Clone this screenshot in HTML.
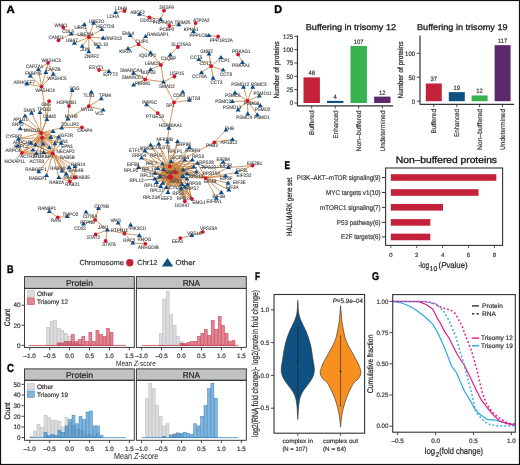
<!DOCTYPE html>
<html><head><meta charset="utf-8"><style>
html,body{margin:0;padding:0;background:#fff;}
svg{display:block;will-change:transform;}
text{font-family:"Liberation Sans",sans-serif;text-rendering:geometricPrecision;}
</style></head><body>
<svg width="520" height="465" viewBox="0 0 520 465">
<defs><clipPath id="gclip"><rect x="392.7" y="294.6" width="122.6" height="137.6"/></clipPath></defs>
<rect x="0" y="0" width="520" height="465" fill="#fff"/>
<text transform="translate(6.4 12.5) scale(1.062 1)" font-size="10.72" font-weight="bold" fill="#000" stroke="#000" stroke-width="0.4">A</text>
<text transform="translate(7.1 272.8) scale(0.815 1)" font-size="11.16" font-weight="bold" fill="#000" stroke="#000" stroke-width="0.4">B</text>
<text transform="translate(7.1 372) scale(0.818 1)" font-size="11.71" font-weight="bold" fill="#000" stroke="#000" stroke-width="0.4">C</text>
<text transform="translate(274.3 12.7) scale(0.958 1)" font-size="11.3" font-weight="bold" fill="#000" stroke="#000" stroke-width="0.4">D</text>
<text transform="translate(284.4 169) scale(0.718 1)" font-size="11.3" font-weight="bold" fill="#000" stroke="#000" stroke-width="0.4">E</text>
<text transform="translate(255.1 280) scale(0.744 1)" font-size="11.01" font-weight="bold" fill="#000" stroke="#000" stroke-width="0.4">F</text>
<text transform="translate(372 280.2) scale(0.817 1)" font-size="11.14" font-weight="bold" fill="#000" stroke="#000" stroke-width="0.4">G</text>
<text x="305.8" y="29.5" font-size="8.4" fill="#1a1a1a" textLength="90.2" lengthAdjust="spacingAndGlyphs" stroke="#1a1a1a" stroke-width="0.3">Buffering in trisomy 12</text>
<rect x="303.5" y="77.39" width="16.4" height="25.61" fill="#C4213A" stroke="none" stroke-width="1" />
<text x="311.7" y="75.39" font-size="6.3" text-anchor="middle" fill="#3a3a3a" textLength="6.52" lengthAdjust="spacingAndGlyphs" stroke="#3a3a3a" stroke-width="0.2">48</text>
<rect x="327" y="100.87" width="16.4" height="2.13" fill="#0F5181" stroke="none" stroke-width="1" />
<text x="335.2" y="98.87" font-size="6.3" text-anchor="middle" fill="#3a3a3a" textLength="3.26" lengthAdjust="spacingAndGlyphs" stroke="#3a3a3a" stroke-width="0.2">4</text>
<rect x="350.5" y="45.9" width="16.4" height="57.1" fill="#38B24E" stroke="none" stroke-width="1" />
<text x="358.7" y="43.9" font-size="6.3" text-anchor="middle" fill="#3a3a3a" textLength="9.77" lengthAdjust="spacingAndGlyphs" stroke="#3a3a3a" stroke-width="0.2">107</text>
<rect x="374.1" y="96.6" width="16.4" height="6.4" fill="#5C2A6C" stroke="none" stroke-width="1" />
<text x="382.3" y="94.6" font-size="6.3" text-anchor="middle" fill="#3a3a3a" textLength="6.52" lengthAdjust="spacingAndGlyphs" stroke="#3a3a3a" stroke-width="0.2">12</text>
<path d="M297.45,35.6 L297.45,105.85 L393,105.85" fill="none" stroke="#333333" stroke-width="1.2" stroke-linejoin="round"/>
<line x1="294.25" y1="103" x2="297.45" y2="103" stroke="#333333" stroke-width="0.9" />
<text x="293.2" y="105.3" font-size="6.4" text-anchor="end" fill="#3a3a3a" textLength="3.38" lengthAdjust="spacingAndGlyphs" stroke="#3a3a3a" stroke-width="0.2">0</text>
<line x1="294.25" y1="89.66" x2="297.45" y2="89.66" stroke="#333333" stroke-width="0.9" />
<text x="293.2" y="91.96" font-size="6.4" text-anchor="end" fill="#3a3a3a" textLength="6.76" lengthAdjust="spacingAndGlyphs" stroke="#3a3a3a" stroke-width="0.2">25</text>
<line x1="294.25" y1="76.32" x2="297.45" y2="76.32" stroke="#333333" stroke-width="0.9" />
<text x="293.2" y="78.62" font-size="6.4" text-anchor="end" fill="#3a3a3a" textLength="6.76" lengthAdjust="spacingAndGlyphs" stroke="#3a3a3a" stroke-width="0.2">50</text>
<line x1="294.25" y1="62.98" x2="297.45" y2="62.98" stroke="#333333" stroke-width="0.9" />
<text x="293.2" y="65.28" font-size="6.4" text-anchor="end" fill="#3a3a3a" textLength="6.76" lengthAdjust="spacingAndGlyphs" stroke="#3a3a3a" stroke-width="0.2">75</text>
<line x1="294.25" y1="49.64" x2="297.45" y2="49.64" stroke="#333333" stroke-width="0.9" />
<text x="293.2" y="51.94" font-size="6.4" text-anchor="end" fill="#3a3a3a" textLength="10.14" lengthAdjust="spacingAndGlyphs" stroke="#3a3a3a" stroke-width="0.2">100</text>
<line x1="294.25" y1="36.3" x2="297.45" y2="36.3" stroke="#333333" stroke-width="0.9" />
<text x="293.2" y="38.6" font-size="6.4" text-anchor="end" fill="#3a3a3a" textLength="10.14" lengthAdjust="spacingAndGlyphs" stroke="#3a3a3a" stroke-width="0.2">125</text>
<line x1="311.7" y1="105.85" x2="311.7" y2="108.65" stroke="#333333" stroke-width="0.9" />
<text x="314.1" y="110.45" font-size="6.8" text-anchor="end" fill="#3a3a3a" textLength="24.5" lengthAdjust="spacingAndGlyphs" transform="rotate(-90 314.1 110.45)" stroke="#3a3a3a" stroke-width="0.2">Buffered</text>
<line x1="335.2" y1="105.85" x2="335.2" y2="108.65" stroke="#333333" stroke-width="0.9" />
<text x="337.6" y="110.45" font-size="6.8" text-anchor="end" fill="#3a3a3a" textLength="28" lengthAdjust="spacingAndGlyphs" transform="rotate(-90 337.6 110.45)" stroke="#3a3a3a" stroke-width="0.2">Enhanced</text>
<line x1="358.7" y1="105.85" x2="358.7" y2="108.65" stroke="#333333" stroke-width="0.9" />
<text x="361.1" y="110.45" font-size="6.8" text-anchor="end" fill="#3a3a3a" textLength="41" lengthAdjust="spacingAndGlyphs" transform="rotate(-90 361.1 110.45)" stroke="#3a3a3a" stroke-width="0.2">Non–buffered</text>
<line x1="382.3" y1="105.85" x2="382.3" y2="108.65" stroke="#333333" stroke-width="0.9" />
<text x="384.7" y="110.45" font-size="6.8" text-anchor="end" fill="#3a3a3a" textLength="41" lengthAdjust="spacingAndGlyphs" transform="rotate(-90 384.7 110.45)" stroke="#3a3a3a" stroke-width="0.2">Undetermined</text>
<text x="279.4" y="70" font-size="7.5" text-anchor="middle" fill="#222" textLength="57.2" lengthAdjust="spacingAndGlyphs" transform="rotate(-90 279.4 70)" stroke="#222" stroke-width="0.2">Number of proteins</text>
<text x="417" y="29.5" font-size="8.4" fill="#1a1a1a" textLength="90.6" lengthAdjust="spacingAndGlyphs" stroke="#1a1a1a" stroke-width="0.3">Buffering in trisomy 19</text>
<rect x="425.8" y="83.48" width="16" height="17.72" fill="#C4213A" stroke="none" stroke-width="1" />
<text x="433.8" y="81.48" font-size="6.3" text-anchor="middle" fill="#3a3a3a" textLength="6.52" lengthAdjust="spacingAndGlyphs" stroke="#3a3a3a" stroke-width="0.2">37</text>
<rect x="448.8" y="92.1" width="16" height="9.1" fill="#0F5181" stroke="none" stroke-width="1" />
<text x="456.8" y="90.1" font-size="6.3" text-anchor="middle" fill="#3a3a3a" textLength="6.52" lengthAdjust="spacingAndGlyphs" stroke="#3a3a3a" stroke-width="0.2">19</text>
<rect x="471.6" y="95.45" width="16" height="5.75" fill="#38B24E" stroke="none" stroke-width="1" />
<text x="479.6" y="93.45" font-size="6.3" text-anchor="middle" fill="#3a3a3a" textLength="6.52" lengthAdjust="spacingAndGlyphs" stroke="#3a3a3a" stroke-width="0.2">12</text>
<rect x="494.6" y="45.16" width="16" height="56.04" fill="#5C2A6C" stroke="none" stroke-width="1" />
<text x="502.6" y="43.16" font-size="6.3" text-anchor="middle" fill="#3a3a3a" textLength="9.34" lengthAdjust="spacingAndGlyphs" stroke="#3a3a3a" stroke-width="0.2">117</text>
<path d="M420,35.6 L420,104.35 L514,104.35" fill="none" stroke="#333333" stroke-width="1.2" stroke-linejoin="round"/>
<line x1="416.8" y1="101.2" x2="420" y2="101.2" stroke="#333333" stroke-width="0.9" />
<text x="415.2" y="103.5" font-size="6.4" text-anchor="end" fill="#3a3a3a" textLength="3.38" lengthAdjust="spacingAndGlyphs" stroke="#3a3a3a" stroke-width="0.2">0</text>
<line x1="416.8" y1="77.25" x2="420" y2="77.25" stroke="#333333" stroke-width="0.9" />
<text x="415.2" y="79.55" font-size="6.4" text-anchor="end" fill="#3a3a3a" textLength="6.76" lengthAdjust="spacingAndGlyphs" stroke="#3a3a3a" stroke-width="0.2">50</text>
<line x1="416.8" y1="53.3" x2="420" y2="53.3" stroke="#333333" stroke-width="0.9" />
<text x="415.2" y="55.6" font-size="6.4" text-anchor="end" fill="#3a3a3a" textLength="10.14" lengthAdjust="spacingAndGlyphs" stroke="#3a3a3a" stroke-width="0.2">100</text>
<line x1="433.8" y1="104.35" x2="433.8" y2="107.15" stroke="#333333" stroke-width="0.9" />
<text x="436.2" y="108.95" font-size="6.8" text-anchor="end" fill="#3a3a3a" textLength="24.5" lengthAdjust="spacingAndGlyphs" transform="rotate(-90 436.2 108.95)" stroke="#3a3a3a" stroke-width="0.2">Buffered</text>
<line x1="456.8" y1="104.35" x2="456.8" y2="107.15" stroke="#333333" stroke-width="0.9" />
<text x="459.2" y="108.95" font-size="6.8" text-anchor="end" fill="#3a3a3a" textLength="28" lengthAdjust="spacingAndGlyphs" transform="rotate(-90 459.2 108.95)" stroke="#3a3a3a" stroke-width="0.2">Enhanced</text>
<line x1="479.6" y1="104.35" x2="479.6" y2="107.15" stroke="#333333" stroke-width="0.9" />
<text x="482" y="108.95" font-size="6.8" text-anchor="end" fill="#3a3a3a" textLength="41" lengthAdjust="spacingAndGlyphs" transform="rotate(-90 482 108.95)" stroke="#3a3a3a" stroke-width="0.2">Non–buffered</text>
<line x1="502.6" y1="104.35" x2="502.6" y2="107.15" stroke="#333333" stroke-width="0.9" />
<text x="505" y="108.95" font-size="6.8" text-anchor="end" fill="#3a3a3a" textLength="41" lengthAdjust="spacingAndGlyphs" transform="rotate(-90 505 108.95)" stroke="#3a3a3a" stroke-width="0.2">Undetermined</text>
<text x="402.9" y="70" font-size="7.5" text-anchor="middle" fill="#222" textLength="57.2" lengthAdjust="spacingAndGlyphs" transform="rotate(-90 402.9 70)" stroke="#222" stroke-width="0.2">Number of proteins</text>
<text x="395.8" y="163.1" font-size="9.4" fill="#1a1a1a" textLength="101.2" lengthAdjust="spacingAndGlyphs" stroke="#1a1a1a" stroke-width="0.33">Non–buffered proteins</text>
<rect x="385.6" y="168" width="117" height="77.4" fill="none" stroke="#333333" stroke-width="1.1" />
<rect x="390.8" y="174.2" width="105.54" height="6.6" fill="#C4213A" stroke="none" stroke-width="1" />
<line x1="381.9" y1="177.5" x2="385.6" y2="177.5" stroke="#333333" stroke-width="1" />
<text x="380.6" y="179.9" font-size="6.8" text-anchor="end" fill="#3a3a3a" textLength="83.75" lengthAdjust="spacingAndGlyphs" stroke="#3a3a3a" stroke-width="0.2">PI3K–AKT–mTOR signaling(9)</text>
<rect x="390.8" y="189.2" width="87.8" height="6.6" fill="#C4213A" stroke="none" stroke-width="1" />
<line x1="381.9" y1="192.5" x2="385.6" y2="192.5" stroke="#333333" stroke-width="1" />
<text x="380.6" y="194.9" font-size="6.8" text-anchor="end" fill="#3a3a3a" textLength="54.5" lengthAdjust="spacingAndGlyphs" stroke="#3a3a3a" stroke-width="0.2">MYC targets v1(10)</text>
<rect x="390.8" y="204" width="52.19" height="6.6" fill="#C4213A" stroke="none" stroke-width="1" />
<line x1="381.9" y1="207.3" x2="385.6" y2="207.3" stroke="#333333" stroke-width="1" />
<text x="380.6" y="209.7" font-size="6.8" text-anchor="end" fill="#3a3a3a" textLength="60.5" lengthAdjust="spacingAndGlyphs" stroke="#3a3a3a" stroke-width="0.2">mTORC1 signaling(7)</text>
<rect x="390.8" y="219.1" width="39.5" height="6.6" fill="#C4213A" stroke="none" stroke-width="1" />
<line x1="381.9" y1="222.4" x2="385.6" y2="222.4" stroke="#333333" stroke-width="1" />
<text x="380.6" y="224.8" font-size="6.8" text-anchor="end" fill="#3a3a3a" textLength="43.75" lengthAdjust="spacingAndGlyphs" stroke="#3a3a3a" stroke-width="0.2">P53 pathway(6)</text>
<rect x="390.8" y="233.65" width="39.5" height="6.6" fill="#C4213A" stroke="none" stroke-width="1" />
<line x1="381.9" y1="236.95" x2="385.6" y2="236.95" stroke="#333333" stroke-width="1" />
<text x="380.6" y="239.35" font-size="6.8" text-anchor="end" fill="#3a3a3a" textLength="39.5" lengthAdjust="spacingAndGlyphs" stroke="#3a3a3a" stroke-width="0.2">E2F targets(6)</text>
<line x1="390.8" y1="245.3" x2="390.8" y2="248" stroke="#333333" stroke-width="0.8" />
<text x="390.8" y="256.6" font-size="6" text-anchor="middle" fill="#3a3a3a" stroke="#3a3a3a" stroke-width="0.2">0</text>
<line x1="416.7" y1="245.3" x2="416.7" y2="248" stroke="#333333" stroke-width="0.8" />
<text x="416.7" y="256.6" font-size="6" text-anchor="middle" fill="#3a3a3a" stroke="#3a3a3a" stroke-width="0.2">2</text>
<line x1="442.6" y1="245.3" x2="442.6" y2="248" stroke="#333333" stroke-width="0.8" />
<text x="442.6" y="256.6" font-size="6" text-anchor="middle" fill="#3a3a3a" stroke="#3a3a3a" stroke-width="0.2">4</text>
<line x1="468.5" y1="245.3" x2="468.5" y2="248" stroke="#333333" stroke-width="0.8" />
<text x="468.5" y="256.6" font-size="6" text-anchor="middle" fill="#3a3a3a" stroke="#3a3a3a" stroke-width="0.2">6</text>
<line x1="494.4" y1="245.3" x2="494.4" y2="248" stroke="#333333" stroke-width="0.8" />
<text x="494.4" y="256.6" font-size="6" text-anchor="middle" fill="#3a3a3a" stroke="#3a3a3a" stroke-width="0.2">8</text>
<text x="418.4" y="268.1" font-size="8.6" fill="#222" textLength="10.6" lengthAdjust="spacingAndGlyphs" stroke="#222" stroke-width="0.2">-log</text>
<text x="429.6" y="270.7" font-size="7.0" fill="#222" stroke="#222" stroke-width="0.15">10</text>
<text x="438.6" y="268.1" font-size="8.6" fill="#222" stroke="#222" stroke-width="0.2" textLength="29.0" lengthAdjust="spacingAndGlyphs">(<tspan font-style="italic">P</tspan>value)</text>
<text x="292.1" y="206.8" font-size="8" text-anchor="middle" fill="#222" textLength="58.5" lengthAdjust="spacingAndGlyphs" transform="rotate(-90 292.1 206.8)" stroke="#222" stroke-width="0.2">HALLMARK gene set</text>
<rect x="274" y="294.5" width="90.6" height="138.7" fill="none" stroke="#333333" stroke-width="1.1" />
<line x1="270.8" y1="309.8" x2="274" y2="309.8" stroke="#333333" stroke-width="0.9" />
<text x="269.3" y="312" font-size="6.3" text-anchor="end" fill="#3a3a3a" stroke="#3a3a3a" stroke-width="0.2">1.0</text>
<line x1="270.8" y1="342.6" x2="274" y2="342.6" stroke="#333333" stroke-width="0.9" />
<text x="269.3" y="344.8" font-size="6.3" text-anchor="end" fill="#3a3a3a" stroke="#3a3a3a" stroke-width="0.2">0.5</text>
<line x1="270.8" y1="375.4" x2="274" y2="375.4" stroke="#333333" stroke-width="0.9" />
<text x="269.3" y="377.6" font-size="6.3" text-anchor="end" fill="#3a3a3a" stroke="#3a3a3a" stroke-width="0.2">0.0</text>
<line x1="270.8" y1="408.2" x2="274" y2="408.2" stroke="#333333" stroke-width="0.9" />
<text x="269.3" y="410.4" font-size="6.3" text-anchor="end" fill="#3a3a3a" stroke="#3a3a3a" stroke-width="0.2">–0.5</text>
<path d="M297.85,300.8 C297.91,301.5 298.03,303.5 298.1,305 C298.18,306.5 298.2,308.47 298.3,309.8 C298.4,311.13 298.5,311.87 298.7,313 C298.9,314.13 299.17,315.43 299.5,316.6 C299.83,317.77 300.23,318.85 300.7,320 C301.17,321.15 301.75,322.33 302.3,323.5 C302.85,324.67 303.43,325.85 304,327 C304.57,328.15 304.98,328.68 305.7,330.4 C306.42,332.12 307.53,335.02 308.3,337.3 C309.07,339.58 309.73,341.82 310.3,344.1 C310.87,346.38 311.27,348.47 311.7,351 C312.13,353.53 312.53,356.97 312.9,359.3 C313.27,361.63 313.65,363.22 313.9,365 C314.15,366.78 314.43,368.4 314.4,370 C314.37,371.6 314.15,373.08 313.7,374.6 C313.25,376.12 312.72,377.35 311.7,379.1 C310.68,380.85 309.03,383.1 307.6,385.1 C306.17,387.1 304.33,389.08 303.1,391.1 C301.87,393.12 300.88,395.18 300.2,397.2 C299.52,399.22 299.3,401.2 299,403.2 C298.7,405.2 298.54,407.4 298.4,409.2 C298.26,411 298.24,412.37 298.15,414 C298.06,415.63 297.92,418.17 297.85,419 C297.78,419.83 297.82,419.83 297.75,419 C297.68,418.17 297.54,415.63 297.45,414 C297.36,412.37 297.34,411 297.2,409.2 C297.06,407.4 296.9,405.2 296.6,403.2 C296.3,401.2 296.08,399.22 295.4,397.2 C294.72,395.18 293.73,393.12 292.5,391.1 C291.27,389.08 289.43,387.1 288,385.1 C286.57,383.1 284.92,380.85 283.9,379.1 C282.88,377.35 282.35,376.12 281.9,374.6 C281.45,373.08 281.23,371.6 281.2,370 C281.17,368.4 281.45,366.78 281.7,365 C281.95,363.22 282.33,361.63 282.7,359.3 C283.07,356.97 283.47,353.53 283.9,351 C284.33,348.47 284.73,346.38 285.3,344.1 C285.87,341.82 286.53,339.58 287.3,337.3 C288.07,335.02 289.18,332.12 289.9,330.4 C290.62,328.68 291.03,328.15 291.6,327 C292.17,325.85 292.75,324.67 293.3,323.5 C293.85,322.33 294.43,321.15 294.9,320 C295.37,318.85 295.77,317.77 296.1,316.6 C296.43,315.43 296.7,314.13 296.9,313 C297.1,311.87 297.2,311.13 297.3,309.8 C297.4,308.47 297.43,306.5 297.5,305 C297.57,303.5 297.69,301.5 297.75,300.8 C297.81,300.1 297.79,300.1 297.85,300.8Z" fill="#0F5181" stroke="#2a2a2a" stroke-width="0.6"/>
<path d="M340.6,306 C340.68,306.67 340.82,308.5 340.95,310 C341.07,311.5 341.17,312.9 341.35,315 C341.53,317.1 341.7,320.1 342.05,322.6 C342.4,325.1 342.95,327.5 343.45,330 C343.95,332.5 344.28,335.08 345.05,337.6 C345.82,340.12 346.85,342.6 348.05,345.1 C349.25,347.6 350.87,350.08 352.25,352.6 C353.63,355.12 355.25,358.13 356.35,360.2 C357.45,362.27 358.28,363.75 358.85,365 C359.42,366.25 359.42,366.7 359.75,367.7 C360.08,368.7 360.68,369.95 360.85,371 C361.02,372.05 360.97,373 360.75,374 C360.53,375 360.17,376 359.55,377 C358.93,378 358.02,379 357.05,380 C356.08,381 354.85,381.5 353.75,383 C352.65,384.5 351.47,387 350.45,389 C349.43,391 348.57,392.73 347.65,395 C346.73,397.27 345.75,400.08 344.95,402.6 C344.15,405.12 343.42,407.6 342.85,410.1 C342.28,412.6 341.85,415.62 341.55,417.6 C341.25,419.58 341.21,420.48 341.05,422 C340.89,423.52 340.69,425.92 340.6,426.7 C340.51,427.48 340.59,427.48 340.5,426.7 C340.41,425.92 340.21,423.52 340.05,422 C339.89,420.48 339.85,419.58 339.55,417.6 C339.25,415.62 338.82,412.6 338.25,410.1 C337.68,407.6 336.95,405.12 336.15,402.6 C335.35,400.08 334.37,397.27 333.45,395 C332.53,392.73 331.67,391 330.65,389 C329.63,387 328.45,384.5 327.35,383 C326.25,381.5 325.02,381 324.05,380 C323.08,379 322.17,378 321.55,377 C320.93,376 320.57,375 320.35,374 C320.13,373 320.08,372.05 320.25,371 C320.42,369.95 321.02,368.7 321.35,367.7 C321.68,366.7 321.68,366.25 322.25,365 C322.82,363.75 323.65,362.27 324.75,360.2 C325.85,358.13 327.47,355.12 328.85,352.6 C330.23,350.08 331.85,347.6 333.05,345.1 C334.25,342.6 335.28,340.12 336.05,337.6 C336.82,335.08 337.15,332.5 337.65,330 C338.15,327.5 338.7,325.1 339.05,322.6 C339.4,320.1 339.57,317.1 339.75,315 C339.93,312.9 340.03,311.5 340.15,310 C340.28,308.5 340.43,306.67 340.5,306 C340.57,305.33 340.53,305.33 340.6,306Z" fill="#F7901E" stroke="#2a2a2a" stroke-width="0.6"/>
<line x1="297.8" y1="327" x2="297.8" y2="396" stroke="#1a1a1a" stroke-width="0.55" />
<line x1="297.1" y1="327" x2="298.5" y2="327" stroke="#1a1a1a" stroke-width="0.5" />
<line x1="297.1" y1="396" x2="298.5" y2="396" stroke="#1a1a1a" stroke-width="0.5" />
<circle cx="297.8" cy="361.6" r="0.85" fill="#1a1a1a"/>
<line x1="340.55" y1="336.1" x2="340.55" y2="406" stroke="#1a1a1a" stroke-width="0.55" />
<line x1="339.8" y1="336.1" x2="341.3" y2="336.1" stroke="#1a1a1a" stroke-width="0.5" />
<line x1="339.8" y1="406" x2="341.3" y2="406" stroke="#1a1a1a" stroke-width="0.5" />
<circle cx="340.55" cy="371.3" r="0.85" fill="#1a1a1a"/>
<text x="363.0" y="303.0" font-size="6.4" text-anchor="end" fill="#333" stroke="#333" stroke-width="0.18" textLength="30.3" lengthAdjust="spacingAndGlyphs"><tspan font-style="italic">P</tspan>=5.9e–04</text>
<line x1="297.8" y1="433.2" x2="297.8" y2="435.9" stroke="#333333" stroke-width="0.8" />
<line x1="340.55" y1="433.2" x2="340.55" y2="435.9" stroke="#333333" stroke-width="0.8" />
<text x="282.4" y="443.2" font-size="6.1" fill="#3a3a3a" textLength="30.6" lengthAdjust="spacingAndGlyphs" stroke="#3a3a3a" stroke-width="0.2">complex in</text>
<text x="282.4" y="450.6" font-size="6.1" fill="#3a3a3a" textLength="25" lengthAdjust="spacingAndGlyphs" stroke="#3a3a3a" stroke-width="0.2">(N = 107)</text>
<text x="323" y="443.2" font-size="6.1" fill="#3a3a3a" textLength="35" lengthAdjust="spacingAndGlyphs" stroke="#3a3a3a" stroke-width="0.2">complex out</text>
<text x="323" y="450.6" font-size="6.1" fill="#3a3a3a" textLength="23" lengthAdjust="spacingAndGlyphs" stroke="#3a3a3a" stroke-width="0.2">(N = 64)</text>
<text x="258" y="363.5" font-size="9" text-anchor="middle" fill="#2a2a2a" textLength="147" lengthAdjust="spacingAndGlyphs" transform="rotate(-90 258 363.5)" stroke="#2a2a2a" stroke-width="0.2">log2(RNA fold change)- log2(protein fold change)</text>
<rect x="392.7" y="294.6" width="122.6" height="137.6" fill="none" stroke="#333333" stroke-width="1.1" />
<line x1="389.4" y1="301.4" x2="392.7" y2="301.4" stroke="#333333" stroke-width="0.9" />
<text x="388.3" y="303.65" font-size="6.3" text-anchor="end" fill="#3a3a3a" textLength="11.9" lengthAdjust="spacingAndGlyphs" stroke="#3a3a3a" stroke-width="0.2">1.00</text>
<line x1="389.4" y1="332.6" x2="392.7" y2="332.6" stroke="#333333" stroke-width="0.9" />
<text x="388.3" y="334.85" font-size="6.3" text-anchor="end" fill="#3a3a3a" textLength="11.9" lengthAdjust="spacingAndGlyphs" stroke="#3a3a3a" stroke-width="0.2">0.75</text>
<line x1="389.4" y1="363.8" x2="392.7" y2="363.8" stroke="#333333" stroke-width="0.9" />
<text x="388.3" y="366.05" font-size="6.3" text-anchor="end" fill="#3a3a3a" textLength="11.9" lengthAdjust="spacingAndGlyphs" stroke="#3a3a3a" stroke-width="0.2">0.50</text>
<line x1="389.4" y1="395" x2="392.7" y2="395" stroke="#333333" stroke-width="0.9" />
<text x="388.3" y="397.25" font-size="6.3" text-anchor="end" fill="#3a3a3a" textLength="11.9" lengthAdjust="spacingAndGlyphs" stroke="#3a3a3a" stroke-width="0.2">0.25</text>
<line x1="389.4" y1="426.2" x2="392.7" y2="426.2" stroke="#333333" stroke-width="0.9" />
<text x="388.3" y="428.45" font-size="6.3" text-anchor="end" fill="#3a3a3a" textLength="11.9" lengthAdjust="spacingAndGlyphs" stroke="#3a3a3a" stroke-width="0.2">0.00</text>
<line x1="397.7" y1="432.2" x2="397.7" y2="435.2" stroke="#333333" stroke-width="0.9" />
<text x="397.7" y="443.4" font-size="6.3" text-anchor="middle" fill="#3a3a3a" stroke="#3a3a3a" stroke-width="0.2">–0.5</text>
<line x1="435.6" y1="432.2" x2="435.6" y2="435.2" stroke="#333333" stroke-width="0.9" />
<text x="435.6" y="443.4" font-size="6.3" text-anchor="middle" fill="#3a3a3a" stroke="#3a3a3a" stroke-width="0.2">0.0</text>
<line x1="473.5" y1="432.2" x2="473.5" y2="435.2" stroke="#333333" stroke-width="0.9" />
<text x="473.5" y="443.4" font-size="6.3" text-anchor="middle" fill="#3a3a3a" stroke="#3a3a3a" stroke-width="0.2">0.5</text>
<line x1="511.4" y1="432.2" x2="511.4" y2="435.2" stroke="#333333" stroke-width="0.9" />
<text x="511.4" y="443.4" font-size="6.3" text-anchor="middle" fill="#3a3a3a" stroke="#3a3a3a" stroke-width="0.2">1.0</text>
<text x="424.8" y="453.5" font-size="9" fill="#222" textLength="10.4" lengthAdjust="spacingAndGlyphs" stroke="#222" stroke-width="0.2">log</text>
<text x="435.5" y="456.5" font-size="7.0" fill="#222" stroke="#222" stroke-width="0.15">2</text>
<text x="439.2" y="453.5" font-size="9" fill="#222" textLength="43.9" lengthAdjust="spacingAndGlyphs" stroke="#222" stroke-width="0.2">(fold change)</text>
<text x="373.4" y="363.9" font-size="8.2" text-anchor="middle" fill="#222" textLength="58.8" lengthAdjust="spacingAndGlyphs" transform="rotate(-90 373.4 363.9)" stroke="#222" stroke-width="0.2">Cumulative fraction</text>
<g clip-path="url(#gclip)">
<polyline points="392.7,301.4 399.5,302.3 407,305 414.6,309 424,316 432.7,324.1 438,333 444.7,348.2 446.5,352.7 451.4,365.8 456.3,372.3 460,381.1 464.5,391.2 470,400.1 474.5,408.5 480.1,414.6 487.9,419.7 495.8,420.2 502.5,422.2 510.3,423.8 516,424.5" fill="none" stroke="#29ABE2" stroke-width="1.2" stroke-linejoin="round"/>
<polyline points="392.7,301.4 410,301.5 419.1,301.6 426,304.5 432.7,309 437.2,318.1 440,322.5 444.7,331.6 449,338 457.2,354.3 464.5,365.8 471.3,379.4 476.8,391.2 481.8,400.7 487.9,408.5 493.5,415.2 499.1,420.8 506.9,423.6 516,425.3" fill="none" stroke="#E8198B" stroke-width="1.2" stroke-linejoin="round"/>
<polyline points="392.7,301.4 422,301.4 435.7,303.8 443.2,310.6 448.5,319.6 453.7,331.6 456,337 458,344 460.4,352.7 463,361 465.3,369 468.4,381.7 471.2,391.2 473.4,401.2 475.1,409 477.9,414.6 481.2,418 484.6,421.9 490.2,424.7 496.9,425.8 504.7,426 516,426" fill="none" stroke="#29ABE2" stroke-width="1.5" stroke-dasharray="1.8,2.2" stroke-dashoffset="2" stroke-linejoin="round"/>
<polyline points="392.7,301.4 425,301.5 431.2,302.3 440.2,306.8 446.2,309 450.7,309.8 455.3,313.6 459,320.4 462,325.6 464.5,333 471,349.4 476.8,369 479.6,381.7 482.3,392.3 486.8,404.6 492.4,412.4 499.1,418 508,423 516,424.1" fill="none" stroke="#E8198B" stroke-width="1.5" stroke-dasharray="1.8,2.2" stroke-linejoin="round"/>
</g>
<line x1="472" y1="305.9" x2="479" y2="305.9" stroke="#333" stroke-width="1.4" />
<line x1="472" y1="313.7" x2="479" y2="313.7" stroke="#333" stroke-width="1.4" stroke-dasharray="2.3,2.2"/>
<text x="482" y="308.1" font-size="6.5" fill="#333" textLength="20.9" lengthAdjust="spacingAndGlyphs" stroke="#333" stroke-width="0.2">Protein</text>
<text x="482" y="315.9" font-size="6.5" fill="#333" textLength="13.9" lengthAdjust="spacingAndGlyphs" stroke="#333" stroke-width="0.2">RNA</text>
<line x1="472" y1="338.1" x2="479" y2="338.1" stroke="#E8198B" stroke-width="1.4" />
<line x1="472" y1="345.7" x2="479" y2="345.7" stroke="#29ABE2" stroke-width="1.4" />
<text x="481" y="340.3" font-size="6.5" fill="#333" textLength="31.8" lengthAdjust="spacingAndGlyphs" stroke="#333" stroke-width="0.2">Trisomy 12</text>
<text x="481" y="347.9" font-size="6.5" fill="#333" textLength="31.8" lengthAdjust="spacingAndGlyphs" stroke="#333" stroke-width="0.2">Trisomy 19</text>
<rect x="24.5" y="276.6" width="109.8" height="11.8" fill="#C1C2C4" stroke="#333" stroke-width="0.95" />
<rect x="24.5" y="288.4" width="109.8" height="59" fill="none" stroke="#333" stroke-width="0.95" />
<text x="79.4" y="285.8" font-size="8.5" text-anchor="middle" fill="#222" textLength="27" lengthAdjust="spacingAndGlyphs" stroke="#222" stroke-width="0.2">Protein</text>
<rect x="136.4" y="276.6" width="109.9" height="11.8" fill="#C1C2C4" stroke="#333" stroke-width="0.95" />
<rect x="136.4" y="288.4" width="109.9" height="59" fill="none" stroke="#333" stroke-width="0.95" />
<text x="191.35" y="285.8" font-size="8.5" text-anchor="middle" fill="#222" textLength="17.3" lengthAdjust="spacingAndGlyphs" stroke="#222" stroke-width="0.2">RNA</text>
<line x1="21.6" y1="345.4" x2="24.5" y2="345.4" stroke="#333333" stroke-width="0.9" />
<text x="20.6" y="347.65" font-size="6.4" text-anchor="end" fill="#3a3a3a" stroke="#3a3a3a" stroke-width="0.2">0</text>
<line x1="21.6" y1="325.3" x2="24.5" y2="325.3" stroke="#333333" stroke-width="0.9" />
<text x="20.6" y="327.55" font-size="6.4" text-anchor="end" fill="#3a3a3a" stroke="#3a3a3a" stroke-width="0.2">20</text>
<line x1="21.6" y1="305.2" x2="24.5" y2="305.2" stroke="#333333" stroke-width="0.9" />
<text x="20.6" y="307.45" font-size="6.4" text-anchor="end" fill="#3a3a3a" stroke="#3a3a3a" stroke-width="0.2">40</text>
<line x1="29.75" y1="347.4" x2="29.75" y2="350.2" stroke="#333333" stroke-width="0.9" />
<text x="29.75" y="357.8" font-size="6.3" text-anchor="middle" fill="#3a3a3a" stroke="#3a3a3a" stroke-width="0.2">–1.0</text>
<line x1="49.67" y1="347.4" x2="49.67" y2="350.2" stroke="#333333" stroke-width="0.9" />
<text x="49.67" y="357.8" font-size="6.3" text-anchor="middle" fill="#3a3a3a" stroke="#3a3a3a" stroke-width="0.2">–0.5</text>
<line x1="69.6" y1="347.4" x2="69.6" y2="350.2" stroke="#333333" stroke-width="0.9" />
<text x="69.6" y="357.8" font-size="6.3" text-anchor="middle" fill="#3a3a3a" stroke="#3a3a3a" stroke-width="0.2">0.0</text>
<line x1="89.52" y1="347.4" x2="89.52" y2="350.2" stroke="#333333" stroke-width="0.9" />
<text x="89.52" y="357.8" font-size="6.3" text-anchor="middle" fill="#3a3a3a" stroke="#3a3a3a" stroke-width="0.2">0.5</text>
<line x1="109.45" y1="347.4" x2="109.45" y2="350.2" stroke="#333333" stroke-width="0.9" />
<text x="109.45" y="357.8" font-size="6.3" text-anchor="middle" fill="#3a3a3a" stroke="#3a3a3a" stroke-width="0.2">1.0</text>
<line x1="129.38" y1="347.4" x2="129.38" y2="350.2" stroke="#333333" stroke-width="0.9" />
<text x="129.38" y="357.8" font-size="6.3" text-anchor="middle" fill="#3a3a3a" stroke="#3a3a3a" stroke-width="0.2">1.5</text>
<line x1="141.65" y1="347.4" x2="141.65" y2="350.2" stroke="#333333" stroke-width="0.9" />
<text x="141.65" y="357.8" font-size="6.3" text-anchor="middle" fill="#3a3a3a" stroke="#3a3a3a" stroke-width="0.2">–1.0</text>
<line x1="161.57" y1="347.4" x2="161.57" y2="350.2" stroke="#333333" stroke-width="0.9" />
<text x="161.57" y="357.8" font-size="6.3" text-anchor="middle" fill="#3a3a3a" stroke="#3a3a3a" stroke-width="0.2">–0.5</text>
<line x1="181.5" y1="347.4" x2="181.5" y2="350.2" stroke="#333333" stroke-width="0.9" />
<text x="181.5" y="357.8" font-size="6.3" text-anchor="middle" fill="#3a3a3a" stroke="#3a3a3a" stroke-width="0.2">0.0</text>
<line x1="201.43" y1="347.4" x2="201.43" y2="350.2" stroke="#333333" stroke-width="0.9" />
<text x="201.43" y="357.8" font-size="6.3" text-anchor="middle" fill="#3a3a3a" stroke="#3a3a3a" stroke-width="0.2">0.5</text>
<line x1="221.35" y1="347.4" x2="221.35" y2="350.2" stroke="#333333" stroke-width="0.9" />
<text x="221.35" y="357.8" font-size="6.3" text-anchor="middle" fill="#3a3a3a" stroke="#3a3a3a" stroke-width="0.2">1.0</text>
<line x1="241.28" y1="347.4" x2="241.28" y2="350.2" stroke="#333333" stroke-width="0.9" />
<text x="241.28" y="357.8" font-size="6.3" text-anchor="middle" fill="#3a3a3a" stroke="#3a3a3a" stroke-width="0.2">1.5</text>
<rect x="46.65" y="327.31" width="3.02" height="18.09" fill="#DCDCDF" stroke="#B8B8BC" stroke-width="0.5" fill-opacity="1" stroke-opacity="1"/>
<rect x="50.17" y="321.28" width="3.02" height="24.12" fill="#DCDCDF" stroke="#B8B8BC" stroke-width="0.5" fill-opacity="1" stroke-opacity="1"/>
<rect x="53.69" y="320.27" width="3.02" height="25.12" fill="#DCDCDF" stroke="#B8B8BC" stroke-width="0.5" fill-opacity="1" stroke-opacity="1"/>
<rect x="57.21" y="328.31" width="3.02" height="17.08" fill="#DCDCDF" stroke="#B8B8BC" stroke-width="0.5" fill-opacity="1" stroke-opacity="1"/>
<rect x="60.73" y="330.32" width="3.02" height="15.07" fill="#DCDCDF" stroke="#B8B8BC" stroke-width="0.5" fill-opacity="1" stroke-opacity="1"/>
<rect x="64.25" y="333.34" width="3.02" height="12.06" fill="#DCDCDF" stroke="#B8B8BC" stroke-width="0.5" fill-opacity="1" stroke-opacity="1"/>
<rect x="67.77" y="336.35" width="3.02" height="9.04" fill="#DCDCDF" stroke="#B8B8BC" stroke-width="0.5" fill-opacity="1" stroke-opacity="1"/>
<rect x="71.29" y="342.38" width="3.02" height="3.01" fill="#DCDCDF" stroke="#B8B8BC" stroke-width="0.5" fill-opacity="1" stroke-opacity="1"/>
<rect x="74.81" y="343.39" width="3.02" height="2.01" fill="#DCDCDF" stroke="#B8B8BC" stroke-width="0.5" fill-opacity="1" stroke-opacity="1"/>
<rect x="78.33" y="344.39" width="3.02" height="1" fill="#DCDCDF" stroke="#B8B8BC" stroke-width="0.5" fill-opacity="1" stroke-opacity="1"/>
<line x1="28.8" y1="345.4" x2="126" y2="345.4" stroke="#C4213A" stroke-width="0.9" stroke-opacity="0.75"/>
<rect x="57.21" y="342.89" width="3.02" height="2.51" fill="#C4213A" stroke="#C4213A" stroke-width="0.5" fill-opacity="0.55" stroke-opacity="0.8"/>
<rect x="60.73" y="342.89" width="3.02" height="2.51" fill="#C4213A" stroke="#C4213A" stroke-width="0.5" fill-opacity="0.55" stroke-opacity="0.8"/>
<rect x="64.25" y="341.38" width="3.02" height="4.02" fill="#C4213A" stroke="#C4213A" stroke-width="0.5" fill-opacity="0.55" stroke-opacity="0.8"/>
<rect x="67.77" y="341.38" width="3.02" height="4.02" fill="#C4213A" stroke="#C4213A" stroke-width="0.5" fill-opacity="0.55" stroke-opacity="0.8"/>
<rect x="71.29" y="334.34" width="3.02" height="11.05" fill="#C4213A" stroke="#C4213A" stroke-width="0.5" fill-opacity="0.55" stroke-opacity="0.8"/>
<rect x="74.81" y="341.38" width="3.02" height="4.02" fill="#C4213A" stroke="#C4213A" stroke-width="0.5" fill-opacity="0.55" stroke-opacity="0.8"/>
<rect x="78.33" y="339.37" width="3.02" height="6.03" fill="#C4213A" stroke="#C4213A" stroke-width="0.5" fill-opacity="0.55" stroke-opacity="0.8"/>
<rect x="81.85" y="336.35" width="3.02" height="9.04" fill="#C4213A" stroke="#C4213A" stroke-width="0.5" fill-opacity="0.55" stroke-opacity="0.8"/>
<rect x="85.37" y="341.38" width="3.02" height="4.02" fill="#C4213A" stroke="#C4213A" stroke-width="0.5" fill-opacity="0.55" stroke-opacity="0.8"/>
<rect x="88.89" y="332.33" width="3.02" height="13.06" fill="#C4213A" stroke="#C4213A" stroke-width="0.5" fill-opacity="0.55" stroke-opacity="0.8"/>
<rect x="92.41" y="341.38" width="3.02" height="4.02" fill="#C4213A" stroke="#C4213A" stroke-width="0.5" fill-opacity="0.55" stroke-opacity="0.8"/>
<rect x="95.93" y="330.32" width="3.02" height="15.07" fill="#C4213A" stroke="#C4213A" stroke-width="0.5" fill-opacity="0.55" stroke-opacity="0.8"/>
<rect x="99.45" y="334.34" width="3.02" height="11.05" fill="#C4213A" stroke="#C4213A" stroke-width="0.5" fill-opacity="0.55" stroke-opacity="0.8"/>
<rect x="102.97" y="336.35" width="3.02" height="9.04" fill="#C4213A" stroke="#C4213A" stroke-width="0.5" fill-opacity="0.55" stroke-opacity="0.8"/>
<rect x="106.49" y="328.31" width="3.02" height="17.08" fill="#C4213A" stroke="#C4213A" stroke-width="0.5" fill-opacity="0.55" stroke-opacity="0.8"/>
<rect x="110.01" y="332.33" width="3.02" height="13.06" fill="#C4213A" stroke="#C4213A" stroke-width="0.5" fill-opacity="0.55" stroke-opacity="0.8"/>
<rect x="159.27" y="333.34" width="2.96" height="12.06" fill="#DCDCDF" stroke="#B8B8BC" stroke-width="0.5" fill-opacity="1" stroke-opacity="1"/>
<rect x="162.73" y="299.17" width="2.96" height="46.23" fill="#DCDCDF" stroke="#B8B8BC" stroke-width="0.5" fill-opacity="1" stroke-opacity="1"/>
<rect x="166.2" y="291.13" width="2.96" height="54.27" fill="#DCDCDF" stroke="#B8B8BC" stroke-width="0.5" fill-opacity="1" stroke-opacity="1"/>
<rect x="169.66" y="314.25" width="2.96" height="31.15" fill="#DCDCDF" stroke="#B8B8BC" stroke-width="0.5" fill-opacity="1" stroke-opacity="1"/>
<rect x="173.13" y="325.3" width="2.96" height="20.1" fill="#DCDCDF" stroke="#B8B8BC" stroke-width="0.5" fill-opacity="1" stroke-opacity="1"/>
<rect x="176.59" y="336.35" width="2.96" height="9.04" fill="#DCDCDF" stroke="#B8B8BC" stroke-width="0.5" fill-opacity="1" stroke-opacity="1"/>
<rect x="180.05" y="341.38" width="2.96" height="4.02" fill="#DCDCDF" stroke="#B8B8BC" stroke-width="0.5" fill-opacity="1" stroke-opacity="1"/>
<rect x="183.52" y="344.39" width="2.96" height="1" fill="#DCDCDF" stroke="#B8B8BC" stroke-width="0.5" fill-opacity="1" stroke-opacity="1"/>
<line x1="141.7" y1="345.4" x2="238.3" y2="345.4" stroke="#C4213A" stroke-width="0.9" stroke-opacity="0.75"/>
<rect x="180.05" y="343.39" width="2.96" height="2.01" fill="#C4213A" stroke="#C4213A" stroke-width="0.5" fill-opacity="0.55" stroke-opacity="0.8"/>
<rect x="183.52" y="343.39" width="2.96" height="2.01" fill="#C4213A" stroke="#C4213A" stroke-width="0.5" fill-opacity="0.55" stroke-opacity="0.8"/>
<rect x="186.98" y="342.38" width="2.96" height="3.01" fill="#C4213A" stroke="#C4213A" stroke-width="0.5" fill-opacity="0.55" stroke-opacity="0.8"/>
<rect x="190.45" y="341.38" width="2.96" height="4.02" fill="#C4213A" stroke="#C4213A" stroke-width="0.5" fill-opacity="0.55" stroke-opacity="0.8"/>
<rect x="193.91" y="341.38" width="2.96" height="4.02" fill="#C4213A" stroke="#C4213A" stroke-width="0.5" fill-opacity="0.55" stroke-opacity="0.8"/>
<rect x="197.37" y="336.35" width="2.96" height="9.04" fill="#C4213A" stroke="#C4213A" stroke-width="0.5" fill-opacity="0.55" stroke-opacity="0.8"/>
<rect x="200.84" y="333.34" width="2.96" height="12.06" fill="#C4213A" stroke="#C4213A" stroke-width="0.5" fill-opacity="0.55" stroke-opacity="0.8"/>
<rect x="204.3" y="329.32" width="2.96" height="16.08" fill="#C4213A" stroke="#C4213A" stroke-width="0.5" fill-opacity="0.55" stroke-opacity="0.8"/>
<rect x="207.77" y="335.35" width="2.96" height="10.05" fill="#C4213A" stroke="#C4213A" stroke-width="0.5" fill-opacity="0.55" stroke-opacity="0.8"/>
<rect x="211.23" y="320.27" width="2.96" height="25.12" fill="#C4213A" stroke="#C4213A" stroke-width="0.5" fill-opacity="0.55" stroke-opacity="0.8"/>
<rect x="214.69" y="329.32" width="2.96" height="16.08" fill="#C4213A" stroke="#C4213A" stroke-width="0.5" fill-opacity="0.55" stroke-opacity="0.8"/>
<rect x="218.16" y="316.25" width="2.96" height="29.14" fill="#C4213A" stroke="#C4213A" stroke-width="0.5" fill-opacity="0.55" stroke-opacity="0.8"/>
<rect x="221.62" y="325.3" width="2.96" height="20.1" fill="#C4213A" stroke="#C4213A" stroke-width="0.5" fill-opacity="0.55" stroke-opacity="0.8"/>
<rect x="225.09" y="333.34" width="2.96" height="12.06" fill="#C4213A" stroke="#C4213A" stroke-width="0.5" fill-opacity="0.55" stroke-opacity="0.8"/>
<rect x="228.55" y="341.38" width="2.96" height="4.02" fill="#C4213A" stroke="#C4213A" stroke-width="0.5" fill-opacity="0.55" stroke-opacity="0.8"/>
<rect x="232.01" y="340.38" width="2.96" height="5.02" fill="#C4213A" stroke="#C4213A" stroke-width="0.5" fill-opacity="0.55" stroke-opacity="0.8"/>
<rect x="27.3" y="290.5" width="7.2" height="6.4" fill="#DCDCDF" stroke="#B8B8BC" stroke-width="0.5" />
<rect x="27.3" y="297.9" width="7.2" height="6.8" fill="#C4213A" stroke="#C4213A" stroke-width="0.5" fill-opacity="0.55" stroke-opacity="0.8"/>
<text x="37" y="296.3" font-size="6.4" fill="#333" textLength="16.2" lengthAdjust="spacingAndGlyphs" stroke="#333" stroke-width="0.2">Other</text>
<text x="37" y="303.7" font-size="6.4" fill="#333" textLength="31" lengthAdjust="spacingAndGlyphs" stroke="#333" stroke-width="0.2">Trisomy 12</text>
<text x="10" y="317.6" font-size="8" text-anchor="middle" fill="#222" textLength="17.2" lengthAdjust="spacingAndGlyphs" transform="rotate(-90 10 317.6)" stroke="#222" stroke-width="0.2">Count</text>
<text x="135.9" y="365.6" font-size="7.7" fill="#222" text-anchor="middle" textLength="39.7" lengthAdjust="spacingAndGlyphs">Mean <tspan font-style="italic">Z</tspan>-score</text>
<rect x="24.5" y="368.9" width="109.8" height="11.4" fill="#C1C2C4" stroke="#333" stroke-width="0.95" />
<rect x="24.5" y="380.3" width="109.8" height="60" fill="none" stroke="#333" stroke-width="0.95" />
<text x="79.4" y="377.7" font-size="8.5" text-anchor="middle" fill="#222" textLength="27" lengthAdjust="spacingAndGlyphs" stroke="#222" stroke-width="0.2">Protein</text>
<rect x="136.4" y="368.9" width="109.9" height="11.4" fill="#C1C2C4" stroke="#333" stroke-width="0.95" />
<rect x="136.4" y="380.3" width="109.9" height="60" fill="none" stroke="#333" stroke-width="0.95" />
<text x="191.35" y="377.7" font-size="8.5" text-anchor="middle" fill="#222" textLength="17.3" lengthAdjust="spacingAndGlyphs" stroke="#222" stroke-width="0.2">RNA</text>
<line x1="21.6" y1="437.6" x2="24.5" y2="437.6" stroke="#333333" stroke-width="0.9" />
<text x="20.6" y="439.85" font-size="6.4" text-anchor="end" fill="#3a3a3a" stroke="#3a3a3a" stroke-width="0.2">0</text>
<line x1="21.6" y1="426.95" x2="24.5" y2="426.95" stroke="#333333" stroke-width="0.9" />
<text x="20.6" y="429.2" font-size="6.4" text-anchor="end" fill="#3a3a3a" stroke="#3a3a3a" stroke-width="0.2">10</text>
<line x1="21.6" y1="416.3" x2="24.5" y2="416.3" stroke="#333333" stroke-width="0.9" />
<text x="20.6" y="418.55" font-size="6.4" text-anchor="end" fill="#3a3a3a" stroke="#3a3a3a" stroke-width="0.2">20</text>
<line x1="21.6" y1="405.65" x2="24.5" y2="405.65" stroke="#333333" stroke-width="0.9" />
<text x="20.6" y="407.9" font-size="6.4" text-anchor="end" fill="#3a3a3a" stroke="#3a3a3a" stroke-width="0.2">30</text>
<line x1="21.6" y1="395" x2="24.5" y2="395" stroke="#333333" stroke-width="0.9" />
<text x="20.6" y="397.25" font-size="6.4" text-anchor="end" fill="#3a3a3a" stroke="#3a3a3a" stroke-width="0.2">40</text>
<line x1="21.6" y1="384.35" x2="24.5" y2="384.35" stroke="#333333" stroke-width="0.9" />
<text x="20.6" y="386.6" font-size="6.4" text-anchor="end" fill="#3a3a3a" stroke="#3a3a3a" stroke-width="0.2">50</text>
<line x1="29.75" y1="440.3" x2="29.75" y2="443.1" stroke="#333333" stroke-width="0.9" />
<text x="29.75" y="450.6" font-size="6.3" text-anchor="middle" fill="#3a3a3a" stroke="#3a3a3a" stroke-width="0.2">–1.0</text>
<line x1="49.67" y1="440.3" x2="49.67" y2="443.1" stroke="#333333" stroke-width="0.9" />
<text x="49.67" y="450.6" font-size="6.3" text-anchor="middle" fill="#3a3a3a" stroke="#3a3a3a" stroke-width="0.2">–0.5</text>
<line x1="69.6" y1="440.3" x2="69.6" y2="443.1" stroke="#333333" stroke-width="0.9" />
<text x="69.6" y="450.6" font-size="6.3" text-anchor="middle" fill="#3a3a3a" stroke="#3a3a3a" stroke-width="0.2">0.0</text>
<line x1="89.52" y1="440.3" x2="89.52" y2="443.1" stroke="#333333" stroke-width="0.9" />
<text x="89.52" y="450.6" font-size="6.3" text-anchor="middle" fill="#3a3a3a" stroke="#3a3a3a" stroke-width="0.2">0.5</text>
<line x1="109.45" y1="440.3" x2="109.45" y2="443.1" stroke="#333333" stroke-width="0.9" />
<text x="109.45" y="450.6" font-size="6.3" text-anchor="middle" fill="#3a3a3a" stroke="#3a3a3a" stroke-width="0.2">1.0</text>
<line x1="129.38" y1="440.3" x2="129.38" y2="443.1" stroke="#333333" stroke-width="0.9" />
<text x="129.38" y="450.6" font-size="6.3" text-anchor="middle" fill="#3a3a3a" stroke="#3a3a3a" stroke-width="0.2">1.5</text>
<line x1="141.65" y1="440.3" x2="141.65" y2="443.1" stroke="#333333" stroke-width="0.9" />
<text x="141.65" y="450.6" font-size="6.3" text-anchor="middle" fill="#3a3a3a" stroke="#3a3a3a" stroke-width="0.2">–1.0</text>
<line x1="161.57" y1="440.3" x2="161.57" y2="443.1" stroke="#333333" stroke-width="0.9" />
<text x="161.57" y="450.6" font-size="6.3" text-anchor="middle" fill="#3a3a3a" stroke="#3a3a3a" stroke-width="0.2">–0.5</text>
<line x1="181.5" y1="440.3" x2="181.5" y2="443.1" stroke="#333333" stroke-width="0.9" />
<text x="181.5" y="450.6" font-size="6.3" text-anchor="middle" fill="#3a3a3a" stroke="#3a3a3a" stroke-width="0.2">0.0</text>
<line x1="201.43" y1="440.3" x2="201.43" y2="443.1" stroke="#333333" stroke-width="0.9" />
<text x="201.43" y="450.6" font-size="6.3" text-anchor="middle" fill="#3a3a3a" stroke="#3a3a3a" stroke-width="0.2">0.5</text>
<line x1="221.35" y1="440.3" x2="221.35" y2="443.1" stroke="#333333" stroke-width="0.9" />
<text x="221.35" y="450.6" font-size="6.3" text-anchor="middle" fill="#3a3a3a" stroke="#3a3a3a" stroke-width="0.2">1.0</text>
<line x1="241.28" y1="440.3" x2="241.28" y2="443.1" stroke="#333333" stroke-width="0.9" />
<text x="241.28" y="450.6" font-size="6.3" text-anchor="middle" fill="#3a3a3a" stroke="#3a3a3a" stroke-width="0.2">1.5</text>
<rect x="30" y="436.54" width="3" height="1.06" fill="#DCDCDF" stroke="#B8B8BC" stroke-width="0.5" fill-opacity="1" stroke-opacity="1"/>
<rect x="33.5" y="431.21" width="3" height="6.39" fill="#DCDCDF" stroke="#B8B8BC" stroke-width="0.5" fill-opacity="1" stroke-opacity="1"/>
<rect x="37" y="424.29" width="3" height="13.31" fill="#DCDCDF" stroke="#B8B8BC" stroke-width="0.5" fill-opacity="1" stroke-opacity="1"/>
<rect x="40.5" y="427.48" width="3" height="10.12" fill="#DCDCDF" stroke="#B8B8BC" stroke-width="0.5" fill-opacity="1" stroke-opacity="1"/>
<rect x="44" y="415.24" width="3" height="22.36" fill="#DCDCDF" stroke="#B8B8BC" stroke-width="0.5" fill-opacity="1" stroke-opacity="1"/>
<rect x="47.5" y="417.37" width="3" height="20.23" fill="#DCDCDF" stroke="#B8B8BC" stroke-width="0.5" fill-opacity="1" stroke-opacity="1"/>
<rect x="51" y="420.56" width="3" height="17.04" fill="#DCDCDF" stroke="#B8B8BC" stroke-width="0.5" fill-opacity="1" stroke-opacity="1"/>
<rect x="54.5" y="420.56" width="3" height="17.04" fill="#DCDCDF" stroke="#B8B8BC" stroke-width="0.5" fill-opacity="1" stroke-opacity="1"/>
<rect x="58" y="421.62" width="3" height="15.97" fill="#DCDCDF" stroke="#B8B8BC" stroke-width="0.5" fill-opacity="1" stroke-opacity="1"/>
<rect x="61.5" y="426.95" width="3" height="10.65" fill="#DCDCDF" stroke="#B8B8BC" stroke-width="0.5" fill-opacity="1" stroke-opacity="1"/>
<rect x="65" y="417.37" width="3" height="20.23" fill="#DCDCDF" stroke="#B8B8BC" stroke-width="0.5" fill-opacity="1" stroke-opacity="1"/>
<rect x="68.5" y="422.69" width="3" height="14.91" fill="#DCDCDF" stroke="#B8B8BC" stroke-width="0.5" fill-opacity="1" stroke-opacity="1"/>
<rect x="72" y="425.89" width="3" height="11.71" fill="#DCDCDF" stroke="#B8B8BC" stroke-width="0.5" fill-opacity="1" stroke-opacity="1"/>
<rect x="75.5" y="429.08" width="3" height="8.52" fill="#DCDCDF" stroke="#B8B8BC" stroke-width="0.5" fill-opacity="1" stroke-opacity="1"/>
<rect x="79" y="430.68" width="3" height="6.92" fill="#DCDCDF" stroke="#B8B8BC" stroke-width="0.5" fill-opacity="1" stroke-opacity="1"/>
<rect x="82.5" y="431.21" width="3" height="6.39" fill="#DCDCDF" stroke="#B8B8BC" stroke-width="0.5" fill-opacity="1" stroke-opacity="1"/>
<rect x="86" y="434.94" width="3" height="2.66" fill="#DCDCDF" stroke="#B8B8BC" stroke-width="0.5" fill-opacity="1" stroke-opacity="1"/>
<rect x="89.5" y="434.41" width="3" height="3.19" fill="#DCDCDF" stroke="#B8B8BC" stroke-width="0.5" fill-opacity="1" stroke-opacity="1"/>
<rect x="93" y="436" width="3" height="1.6" fill="#DCDCDF" stroke="#B8B8BC" stroke-width="0.5" fill-opacity="1" stroke-opacity="1"/>
<rect x="96.5" y="433.02" width="3" height="4.58" fill="#DCDCDF" stroke="#B8B8BC" stroke-width="0.5" fill-opacity="1" stroke-opacity="1"/>
<line x1="29.75" y1="437.6" x2="126" y2="437.6" stroke="#1E78BE" stroke-width="0.9" stroke-opacity="0.75"/>
<rect x="44" y="432.28" width="3" height="5.32" fill="#1E78BE" stroke="#1E78BE" stroke-width="0.5" fill-opacity="0.55" stroke-opacity="0.85"/>
<rect x="47.5" y="435.47" width="3" height="2.13" fill="#1E78BE" stroke="#1E78BE" stroke-width="0.5" fill-opacity="0.55" stroke-opacity="0.85"/>
<rect x="51" y="434.41" width="3" height="3.19" fill="#1E78BE" stroke="#1E78BE" stroke-width="0.5" fill-opacity="0.55" stroke-opacity="0.85"/>
<rect x="54.5" y="435.47" width="3" height="2.13" fill="#1E78BE" stroke="#1E78BE" stroke-width="0.5" fill-opacity="0.55" stroke-opacity="0.85"/>
<rect x="58" y="430.15" width="3" height="7.46" fill="#1E78BE" stroke="#1E78BE" stroke-width="0.5" fill-opacity="0.55" stroke-opacity="0.85"/>
<rect x="61.5" y="432.28" width="3" height="5.32" fill="#1E78BE" stroke="#1E78BE" stroke-width="0.5" fill-opacity="0.55" stroke-opacity="0.85"/>
<rect x="65" y="425.89" width="3" height="11.71" fill="#1E78BE" stroke="#1E78BE" stroke-width="0.5" fill-opacity="0.55" stroke-opacity="0.85"/>
<rect x="68.5" y="419.5" width="3" height="18.11" fill="#1E78BE" stroke="#1E78BE" stroke-width="0.5" fill-opacity="0.55" stroke-opacity="0.85"/>
<rect x="72" y="415.24" width="3" height="22.36" fill="#1E78BE" stroke="#1E78BE" stroke-width="0.5" fill-opacity="0.55" stroke-opacity="0.85"/>
<rect x="75.5" y="423.75" width="3" height="13.84" fill="#1E78BE" stroke="#1E78BE" stroke-width="0.5" fill-opacity="0.55" stroke-opacity="0.85"/>
<rect x="79" y="416.3" width="3" height="21.3" fill="#1E78BE" stroke="#1E78BE" stroke-width="0.5" fill-opacity="0.55" stroke-opacity="0.85"/>
<rect x="82.5" y="419.5" width="3" height="18.11" fill="#1E78BE" stroke="#1E78BE" stroke-width="0.5" fill-opacity="0.55" stroke-opacity="0.85"/>
<rect x="86" y="412.04" width="3" height="25.56" fill="#1E78BE" stroke="#1E78BE" stroke-width="0.5" fill-opacity="0.55" stroke-opacity="0.85"/>
<rect x="89.5" y="410.98" width="3" height="26.62" fill="#1E78BE" stroke="#1E78BE" stroke-width="0.5" fill-opacity="0.55" stroke-opacity="0.85"/>
<rect x="93" y="425.89" width="3" height="11.71" fill="#1E78BE" stroke="#1E78BE" stroke-width="0.5" fill-opacity="0.55" stroke-opacity="0.85"/>
<rect x="96.5" y="425.89" width="3" height="11.71" fill="#1E78BE" stroke="#1E78BE" stroke-width="0.5" fill-opacity="0.55" stroke-opacity="0.85"/>
<rect x="100" y="435.47" width="3" height="2.13" fill="#1E78BE" stroke="#1E78BE" stroke-width="0.5" fill-opacity="0.55" stroke-opacity="0.85"/>
<rect x="145.35" y="398.2" width="2.95" height="39.41" fill="#DCDCDF" stroke="#B8B8BC" stroke-width="0.5" fill-opacity="1" stroke-opacity="1"/>
<rect x="148.8" y="383.29" width="2.95" height="54.31" fill="#DCDCDF" stroke="#B8B8BC" stroke-width="0.5" fill-opacity="1" stroke-opacity="1"/>
<rect x="152.25" y="388.61" width="2.95" height="48.99" fill="#DCDCDF" stroke="#B8B8BC" stroke-width="0.5" fill-opacity="1" stroke-opacity="1"/>
<rect x="155.7" y="405.65" width="2.95" height="31.95" fill="#DCDCDF" stroke="#B8B8BC" stroke-width="0.5" fill-opacity="1" stroke-opacity="1"/>
<rect x="159.15" y="416.3" width="2.95" height="21.3" fill="#DCDCDF" stroke="#B8B8BC" stroke-width="0.5" fill-opacity="1" stroke-opacity="1"/>
<rect x="162.6" y="425.89" width="2.95" height="11.71" fill="#DCDCDF" stroke="#B8B8BC" stroke-width="0.5" fill-opacity="1" stroke-opacity="1"/>
<rect x="166.05" y="423.75" width="2.95" height="13.84" fill="#DCDCDF" stroke="#B8B8BC" stroke-width="0.5" fill-opacity="1" stroke-opacity="1"/>
<rect x="169.5" y="434.41" width="2.95" height="3.19" fill="#DCDCDF" stroke="#B8B8BC" stroke-width="0.5" fill-opacity="1" stroke-opacity="1"/>
<rect x="172.95" y="433.34" width="2.95" height="4.26" fill="#DCDCDF" stroke="#B8B8BC" stroke-width="0.5" fill-opacity="1" stroke-opacity="1"/>
<rect x="176.4" y="432.28" width="2.95" height="5.32" fill="#DCDCDF" stroke="#B8B8BC" stroke-width="0.5" fill-opacity="1" stroke-opacity="1"/>
<rect x="179.85" y="434.41" width="2.95" height="3.19" fill="#DCDCDF" stroke="#B8B8BC" stroke-width="0.5" fill-opacity="1" stroke-opacity="1"/>
<line x1="141.65" y1="437.6" x2="238.3" y2="437.6" stroke="#1E78BE" stroke-width="0.9" stroke-opacity="0.75"/>
<rect x="162.6" y="436.54" width="2.95" height="1.06" fill="#1E78BE" stroke="#1E78BE" stroke-width="0.5" fill-opacity="0.55" stroke-opacity="0.85"/>
<rect x="169.5" y="435.47" width="2.95" height="2.13" fill="#1E78BE" stroke="#1E78BE" stroke-width="0.5" fill-opacity="0.55" stroke-opacity="0.85"/>
<rect x="172.95" y="434.41" width="2.95" height="3.19" fill="#1E78BE" stroke="#1E78BE" stroke-width="0.5" fill-opacity="0.55" stroke-opacity="0.85"/>
<rect x="176.4" y="433.34" width="2.95" height="4.26" fill="#1E78BE" stroke="#1E78BE" stroke-width="0.5" fill-opacity="0.55" stroke-opacity="0.85"/>
<rect x="179.85" y="433.34" width="2.95" height="4.26" fill="#1E78BE" stroke="#1E78BE" stroke-width="0.5" fill-opacity="0.55" stroke-opacity="0.85"/>
<rect x="183.3" y="432.28" width="2.95" height="5.32" fill="#1E78BE" stroke="#1E78BE" stroke-width="0.5" fill-opacity="0.55" stroke-opacity="0.85"/>
<rect x="186.75" y="433.34" width="2.95" height="4.26" fill="#1E78BE" stroke="#1E78BE" stroke-width="0.5" fill-opacity="0.55" stroke-opacity="0.85"/>
<rect x="190.2" y="434.41" width="2.95" height="3.19" fill="#1E78BE" stroke="#1E78BE" stroke-width="0.5" fill-opacity="0.55" stroke-opacity="0.85"/>
<rect x="193.65" y="423.75" width="2.95" height="13.84" fill="#1E78BE" stroke="#1E78BE" stroke-width="0.5" fill-opacity="0.55" stroke-opacity="0.85"/>
<rect x="197.1" y="425.89" width="2.95" height="11.71" fill="#1E78BE" stroke="#1E78BE" stroke-width="0.5" fill-opacity="0.55" stroke-opacity="0.85"/>
<rect x="200.55" y="416.3" width="2.95" height="21.3" fill="#1E78BE" stroke="#1E78BE" stroke-width="0.5" fill-opacity="0.55" stroke-opacity="0.85"/>
<rect x="204" y="405.65" width="2.95" height="31.95" fill="#1E78BE" stroke="#1E78BE" stroke-width="0.5" fill-opacity="0.55" stroke-opacity="0.85"/>
<rect x="207.45" y="388.61" width="2.95" height="48.99" fill="#1E78BE" stroke="#1E78BE" stroke-width="0.5" fill-opacity="0.55" stroke-opacity="0.85"/>
<rect x="210.9" y="383.29" width="2.95" height="54.31" fill="#1E78BE" stroke="#1E78BE" stroke-width="0.5" fill-opacity="0.55" stroke-opacity="0.85"/>
<rect x="214.35" y="398.2" width="2.95" height="39.41" fill="#1E78BE" stroke="#1E78BE" stroke-width="0.5" fill-opacity="0.55" stroke-opacity="0.85"/>
<rect x="27.3" y="383.7" width="7.2" height="6.2" fill="#DCDCDF" stroke="#B8B8BC" stroke-width="0.5" />
<rect x="27.3" y="391" width="7.2" height="6.4" fill="#1E78BE" stroke="#1E78BE" stroke-width="0.5" fill-opacity="0.55" stroke-opacity="0.85"/>
<text x="37" y="389.2" font-size="6.4" fill="#333" textLength="16.2" lengthAdjust="spacingAndGlyphs" stroke="#333" stroke-width="0.2">Other</text>
<text x="37" y="396.6" font-size="6.4" fill="#333" textLength="31" lengthAdjust="spacingAndGlyphs" stroke="#333" stroke-width="0.2">Trisomy 19</text>
<text x="10.2" y="411" font-size="8" text-anchor="middle" fill="#222" textLength="17.2" lengthAdjust="spacingAndGlyphs" transform="rotate(-90 10.2 411)" stroke="#222" stroke-width="0.2">Count</text>
<text x="136.2" y="459.1" font-size="8.7" fill="#222" text-anchor="middle" textLength="44.3" lengthAdjust="spacingAndGlyphs">Mean <tspan font-style="italic">Z</tspan>-score</text>
<text x="79.4" y="265.4" font-size="7.4" fill="#333" textLength="44.4" lengthAdjust="spacingAndGlyphs" stroke="#333" stroke-width="0.2">Chromosome</text>
<circle cx="129.8" cy="262.8" r="3.7" fill="#C4213A"/>
<text x="137.3" y="265.4" font-size="7.4" fill="#333" textLength="20.2" lengthAdjust="spacingAndGlyphs" stroke="#333" stroke-width="0.2">Chr12</text>
<path d="M167.5,257.9 L173.2,266.5 L161.8,266.5 Z" fill="#0F5181"/>
<text x="175.5" y="265.4" font-size="7.4" fill="#333" textLength="19.7" lengthAdjust="spacingAndGlyphs" stroke="#333" stroke-width="0.2">Other</text>
<ellipse cx="172" cy="174" rx="11" ry="12" fill="#C27C38" fill-opacity="0.6"/>
<ellipse cx="173" cy="175" rx="7" ry="8" fill="#B36E2C" fill-opacity="0.6"/>
<ellipse cx="44" cy="140" rx="8" ry="8" fill="#CC8440" fill-opacity="0.35"/>
<g stroke="#C8823E" stroke-width="0.9" stroke-opacity="0.92" fill="none">
<line x1="71.2" y1="33.8" x2="63.3" y2="27.5"/>
<line x1="71.2" y1="33.8" x2="58.5" y2="40.3"/>
<line x1="71.2" y1="33.8" x2="88.9" y2="37.2"/>
<line x1="88.9" y1="37.2" x2="84.3" y2="24.4"/>
<line x1="88.9" y1="37.2" x2="93.6" y2="23.2"/>
<line x1="88.9" y1="37.2" x2="101.9" y2="29.5"/>
<line x1="88.9" y1="37.2" x2="103.1" y2="38.1"/>
<line x1="88.9" y1="37.2" x2="98.4" y2="47"/>
<line x1="88.9" y1="37.2" x2="82.2" y2="46.2"/>
<line x1="88.9" y1="37.2" x2="88.7" y2="51.7"/>
<line x1="88.9" y1="37.2" x2="74.4" y2="43.1"/>
<line x1="124.4" y1="11" x2="115.6" y2="12.5"/>
<line x1="149.4" y1="17.3" x2="139.4" y2="14.2"/>
<line x1="149.4" y1="17.3" x2="160.6" y2="19.4"/>
<line x1="160.6" y1="19.4" x2="164" y2="10.6"/>
<line x1="160.6" y1="19.4" x2="169.4" y2="26"/>
<line x1="169.4" y1="26" x2="178.8" y2="24.6"/>
<line x1="195.6" y1="23.1" x2="193.5" y2="31.5"/>
<line x1="208.8" y1="35.4" x2="218.1" y2="36.5"/>
<line x1="138.6" y1="44.4" x2="130.3" y2="35.4"/>
<line x1="138.6" y1="44.4" x2="128" y2="48.6"/>
<line x1="138.6" y1="44.4" x2="145.6" y2="36.3"/>
<line x1="138.6" y1="44.4" x2="150.6" y2="52.8"/>
<line x1="160.9" y1="64.9" x2="150.6" y2="52.8"/>
<line x1="160.9" y1="64.9" x2="170.3" y2="54.8"/>
<line x1="160.9" y1="64.9" x2="150.6" y2="69.4"/>
<line x1="160.9" y1="64.9" x2="163.5" y2="81.9"/>
<line x1="177.9" y1="47" x2="170.3" y2="54.8"/>
<line x1="145.3" y1="79.4" x2="150.6" y2="69.4"/>
<line x1="145.3" y1="79.4" x2="133.5" y2="73.1"/>
<line x1="145.3" y1="79.4" x2="133.5" y2="85"/>
<line x1="145.3" y1="79.4" x2="163.5" y2="81.9"/>
<line x1="163.5" y1="81.9" x2="174.4" y2="76.5"/>
<line x1="163.5" y1="81.9" x2="174" y2="102.5"/>
<line x1="174" y1="102.5" x2="182.8" y2="91.9"/>
<line x1="174" y1="102.5" x2="189.4" y2="100.2"/>
<line x1="174" y1="102.5" x2="168.8" y2="128.1"/>
<line x1="157.8" y1="113.1" x2="146.6" y2="104.7"/>
<line x1="157.8" y1="113.1" x2="168.8" y2="128.1"/>
<line x1="211.2" y1="66.2" x2="209" y2="54"/>
<line x1="211.2" y1="66.2" x2="198.8" y2="59.4"/>
<line x1="211.2" y1="66.2" x2="221" y2="57.5"/>
<line x1="211.2" y1="66.2" x2="223.1" y2="70"/>
<line x1="211.2" y1="66.2" x2="213.1" y2="78.1"/>
<line x1="211.2" y1="66.2" x2="201.5" y2="72.5"/>
<line x1="238.1" y1="54.4" x2="242.5" y2="62.5"/>
<line x1="247.5" y1="100.9" x2="243.5" y2="87.1"/>
<line x1="247.5" y1="100.9" x2="252.8" y2="87.1"/>
<line x1="247.5" y1="100.9" x2="259.4" y2="96"/>
<line x1="247.5" y1="100.9" x2="235" y2="92.8"/>
<line x1="247.5" y1="100.9" x2="232.3" y2="101.5"/>
<line x1="247.5" y1="100.9" x2="238.1" y2="110"/>
<line x1="247.5" y1="100.9" x2="247.8" y2="113.8"/>
<line x1="247.5" y1="100.9" x2="257.3" y2="114.8"/>
<line x1="247.5" y1="100.9" x2="260.3" y2="105.6"/>
<line x1="99" y1="70" x2="108.9" y2="71.3"/>
<line x1="48" y1="62.8" x2="38.4" y2="69.4"/>
<line x1="48" y1="62.8" x2="45.8" y2="72.3"/>
<line x1="48" y1="62.8" x2="53.3" y2="74.1"/>
<line x1="41.5" y1="86.6" x2="38.4" y2="69.4"/>
<line x1="41.5" y1="86.6" x2="45.8" y2="72.3"/>
<line x1="41.5" y1="86.6" x2="53.3" y2="74.1"/>
<line x1="41.5" y1="86.6" x2="30.3" y2="76"/>
<line x1="41.5" y1="86.6" x2="26.8" y2="84"/>
<line x1="41.5" y1="86.6" x2="46.9" y2="119.4"/>
<line x1="49.1" y1="101.1" x2="46.9" y2="119.4"/>
<line x1="41.3" y1="132.9" x2="46.9" y2="119.4"/>
<line x1="41.3" y1="132.9" x2="31.6" y2="113.1"/>
<line x1="41.3" y1="132.9" x2="40" y2="112.5"/>
<line x1="41.3" y1="132.9" x2="25" y2="116"/>
<line x1="41.3" y1="132.9" x2="46.9" y2="119.4"/>
<line x1="41.3" y1="132.9" x2="20.5" y2="121.6"/>
<line x1="41.3" y1="132.9" x2="20.2" y2="128.7"/>
<line x1="41.3" y1="132.9" x2="61.7" y2="127.8"/>
<line x1="41.3" y1="132.9" x2="53.1" y2="131.5"/>
<line x1="41.3" y1="132.9" x2="50.8" y2="137.3"/>
<line x1="41.3" y1="132.9" x2="58.6" y2="137.1"/>
<line x1="41.3" y1="132.9" x2="43.3" y2="144"/>
<line x1="41.3" y1="132.9" x2="30.9" y2="143.1"/>
<line x1="41.3" y1="132.9" x2="35.5" y2="144.8"/>
<line x1="41.3" y1="132.9" x2="42.1" y2="137.5"/>
<line x1="41.3" y1="132.9" x2="18.5" y2="139"/>
<line x1="42.1" y1="137.5" x2="18.5" y2="139"/>
<line x1="42.1" y1="137.5" x2="17.5" y2="146"/>
<line x1="42.1" y1="137.5" x2="30.9" y2="143.1"/>
<line x1="42.1" y1="137.5" x2="35.5" y2="144.8"/>
<line x1="42.1" y1="137.5" x2="43.3" y2="144"/>
<line x1="42.1" y1="137.5" x2="50.8" y2="137.3"/>
<line x1="42.1" y1="137.5" x2="32.9" y2="150"/>
<line x1="42.1" y1="137.5" x2="36.3" y2="153.4"/>
<line x1="42.1" y1="137.5" x2="43.6" y2="152.5"/>
<line x1="42.1" y1="137.5" x2="49.4" y2="147.5"/>
<line x1="42.1" y1="137.5" x2="54.8" y2="143.6"/>
<line x1="42.1" y1="137.5" x2="52.8" y2="153.4"/>
<line x1="42.1" y1="137.5" x2="21.9" y2="152.9"/>
<line x1="42.1" y1="137.5" x2="61.1" y2="143.1"/>
<line x1="42.1" y1="137.5" x2="58.6" y2="137.1"/>
<line x1="42.1" y1="137.5" x2="53.1" y2="131.5"/>
<line x1="52.8" y1="153.4" x2="30.9" y2="143.1"/>
<line x1="52.8" y1="153.4" x2="35.5" y2="144.8"/>
<line x1="52.8" y1="153.4" x2="43.3" y2="144"/>
<line x1="52.8" y1="153.4" x2="32.9" y2="150"/>
<line x1="52.8" y1="153.4" x2="36.3" y2="153.4"/>
<line x1="52.8" y1="153.4" x2="43.6" y2="152.5"/>
<line x1="52.8" y1="153.4" x2="49.4" y2="147.5"/>
<line x1="52.8" y1="153.4" x2="54.8" y2="143.6"/>
<line x1="52.8" y1="153.4" x2="61.1" y2="143.1"/>
<line x1="52.8" y1="153.4" x2="58.6" y2="137.1"/>
<line x1="52.8" y1="153.4" x2="21.9" y2="152.9"/>
<line x1="52.8" y1="153.4" x2="50.8" y2="137.3"/>
<line x1="21.9" y1="152.9" x2="30.9" y2="143.1"/>
<line x1="21.9" y1="152.9" x2="35.5" y2="144.8"/>
<line x1="21.9" y1="152.9" x2="32.9" y2="150"/>
<line x1="21.9" y1="152.9" x2="36.3" y2="153.4"/>
<line x1="21.9" y1="152.9" x2="18.5" y2="139"/>
<line x1="21.9" y1="152.9" x2="17.5" y2="146"/>
<line x1="69" y1="106" x2="72.2" y2="90.4"/>
<line x1="69" y1="106" x2="67.9" y2="118.8"/>
<line x1="88.8" y1="106.2" x2="91.3" y2="92.1"/>
<line x1="88.8" y1="106.2" x2="101.3" y2="98.7"/>
<line x1="88.8" y1="106.2" x2="103.1" y2="110"/>
<line x1="88.8" y1="106.2" x2="67.9" y2="118.8"/>
<line x1="81.9" y1="127.3" x2="61.7" y2="127.8"/>
<line x1="67.9" y1="118.8" x2="61.7" y2="127.8"/>
<line x1="52.8" y1="153.4" x2="75" y2="166.5"/>
<line x1="52.8" y1="153.4" x2="69.1" y2="167.3"/>
<line x1="52.8" y1="153.4" x2="61.9" y2="171"/>
<line x1="52.8" y1="153.4" x2="66.3" y2="173.8"/>
<line x1="52.8" y1="153.4" x2="74.8" y2="177.5"/>
<line x1="52.8" y1="153.4" x2="69.8" y2="181.5"/>
<line x1="52.8" y1="153.4" x2="58.8" y2="177.5"/>
<line x1="52.8" y1="153.4" x2="46.5" y2="175.4"/>
<line x1="52.8" y1="153.4" x2="38.8" y2="171.7"/>
<line x1="74.8" y1="177.5" x2="69.8" y2="181.5"/>
<line x1="74.8" y1="177.5" x2="69.1" y2="167.3"/>
<line x1="74.8" y1="177.5" x2="75" y2="166.5"/>
<line x1="69.8" y1="181.5" x2="58.8" y2="177.5"/>
<line x1="69.8" y1="181.5" x2="66.3" y2="173.8"/>
<line x1="169.8" y1="166.3" x2="167.5" y2="141.9"/>
<line x1="170.4" y1="177.2" x2="167.5" y2="141.9"/>
<line x1="169.8" y1="166.3" x2="177.5" y2="141.4"/>
<line x1="170.4" y1="177.2" x2="177.5" y2="141.4"/>
<line x1="169.8" y1="166.3" x2="158.8" y2="143.8"/>
<line x1="170.4" y1="177.2" x2="158.8" y2="143.8"/>
<line x1="169.8" y1="166.3" x2="150.6" y2="145"/>
<line x1="170.4" y1="177.2" x2="150.6" y2="145"/>
<line x1="169.8" y1="166.3" x2="145" y2="151"/>
<line x1="170.4" y1="177.2" x2="145" y2="151"/>
<line x1="169.8" y1="166.3" x2="141.5" y2="157.9"/>
<line x1="170.4" y1="177.2" x2="141.5" y2="157.9"/>
<line x1="169.8" y1="166.3" x2="189.4" y2="147.3"/>
<line x1="170.4" y1="177.2" x2="189.4" y2="147.3"/>
<line x1="169.8" y1="166.3" x2="192.3" y2="160"/>
<line x1="170.4" y1="177.2" x2="192.3" y2="160"/>
<line x1="169.8" y1="166.3" x2="184.8" y2="160"/>
<line x1="170.4" y1="177.2" x2="184.8" y2="160"/>
<line x1="169.8" y1="166.3" x2="197.5" y2="163.1"/>
<line x1="170.4" y1="177.2" x2="197.5" y2="163.1"/>
<line x1="169.8" y1="166.3" x2="171" y2="161.3"/>
<line x1="170.4" y1="177.2" x2="171" y2="161.3"/>
<line x1="169.8" y1="166.3" x2="162.5" y2="164"/>
<line x1="170.4" y1="177.2" x2="162.5" y2="164"/>
<line x1="169.8" y1="166.3" x2="138.5" y2="167.3"/>
<line x1="170.4" y1="177.2" x2="138.5" y2="167.3"/>
<line x1="169.8" y1="166.3" x2="157.8" y2="168.5"/>
<line x1="170.4" y1="177.2" x2="157.8" y2="168.5"/>
<line x1="169.8" y1="166.3" x2="163.5" y2="169.4"/>
<line x1="170.4" y1="177.2" x2="163.5" y2="169.4"/>
<line x1="169.8" y1="166.3" x2="155" y2="173.1"/>
<line x1="170.4" y1="177.2" x2="155" y2="173.1"/>
<line x1="169.8" y1="166.3" x2="160" y2="176.3"/>
<line x1="170.4" y1="177.2" x2="160" y2="176.3"/>
<line x1="169.8" y1="166.3" x2="154.8" y2="178.8"/>
<line x1="170.4" y1="177.2" x2="154.8" y2="178.8"/>
<line x1="169.8" y1="166.3" x2="156.6" y2="182.3"/>
<line x1="170.4" y1="177.2" x2="156.6" y2="182.3"/>
<line x1="169.8" y1="166.3" x2="160.6" y2="186.3"/>
<line x1="170.4" y1="177.2" x2="160.6" y2="186.3"/>
<line x1="169.8" y1="166.3" x2="162.8" y2="183.1"/>
<line x1="170.4" y1="177.2" x2="162.8" y2="183.1"/>
<line x1="169.8" y1="166.3" x2="166.3" y2="187.5"/>
<line x1="170.4" y1="177.2" x2="166.3" y2="187.5"/>
<line x1="169.8" y1="166.3" x2="167.9" y2="192.3"/>
<line x1="170.4" y1="177.2" x2="167.9" y2="192.3"/>
<line x1="169.8" y1="166.3" x2="181.3" y2="188.8"/>
<line x1="170.4" y1="177.2" x2="181.3" y2="188.8"/>
<line x1="169.8" y1="166.3" x2="187.5" y2="184.4"/>
<line x1="170.4" y1="177.2" x2="187.5" y2="184.4"/>
<line x1="169.8" y1="166.3" x2="181.9" y2="184.4"/>
<line x1="170.4" y1="177.2" x2="181.9" y2="184.4"/>
<line x1="169.8" y1="166.3" x2="185" y2="186.9"/>
<line x1="170.4" y1="177.2" x2="185" y2="186.9"/>
<line x1="169.8" y1="166.3" x2="183.1" y2="176.5"/>
<line x1="170.4" y1="177.2" x2="183.1" y2="176.5"/>
<line x1="169.8" y1="166.3" x2="186.9" y2="178.8"/>
<line x1="170.4" y1="177.2" x2="186.9" y2="178.8"/>
<line x1="169.8" y1="166.3" x2="184.8" y2="201.3"/>
<line x1="170.4" y1="177.2" x2="184.8" y2="201.3"/>
<line x1="169.8" y1="166.3" x2="191.9" y2="199"/>
<line x1="170.4" y1="177.2" x2="191.9" y2="199"/>
<line x1="169.8" y1="166.3" x2="183.1" y2="169.8"/>
<line x1="170.4" y1="177.2" x2="183.1" y2="169.8"/>
<line x1="169.8" y1="166.3" x2="196.3" y2="171.9"/>
<line x1="170.4" y1="177.2" x2="196.3" y2="171.9"/>
<line x1="169.8" y1="166.3" x2="186.9" y2="173.8"/>
<line x1="170.4" y1="177.2" x2="186.9" y2="173.8"/>
<line x1="169.8" y1="166.3" x2="182.5" y2="176.3"/>
<line x1="170.4" y1="177.2" x2="182.5" y2="176.3"/>
<line x1="169.8" y1="166.3" x2="193.8" y2="166.9"/>
<line x1="170.4" y1="177.2" x2="193.8" y2="166.9"/>
<line x1="175.3" y1="172.5" x2="192.3" y2="160"/>
<line x1="175.3" y1="172.5" x2="184.8" y2="160"/>
<line x1="175.3" y1="172.5" x2="197.5" y2="163.1"/>
<line x1="175.3" y1="172.5" x2="183.1" y2="169.8"/>
<line x1="175.3" y1="172.5" x2="196.3" y2="171.9"/>
<line x1="175.3" y1="172.5" x2="186.9" y2="173.8"/>
<line x1="175.3" y1="172.5" x2="182.5" y2="176.3"/>
<line x1="175.3" y1="172.5" x2="193.8" y2="166.9"/>
<line x1="175.3" y1="172.5" x2="181.3" y2="188.8"/>
<line x1="175.3" y1="172.5" x2="187.5" y2="184.4"/>
<line x1="175.3" y1="172.5" x2="181.9" y2="184.4"/>
<line x1="175.3" y1="172.5" x2="185" y2="186.9"/>
<line x1="175.3" y1="172.5" x2="183.1" y2="176.5"/>
<line x1="175.3" y1="172.5" x2="186.9" y2="178.8"/>
<line x1="175.3" y1="172.5" x2="184.8" y2="201.3"/>
<line x1="175.3" y1="172.5" x2="191.9" y2="199"/>
<line x1="175.3" y1="172.5" x2="205.6" y2="178.1"/>
<line x1="175.3" y1="172.5" x2="155" y2="173.1"/>
<line x1="175.3" y1="172.5" x2="154.8" y2="178.8"/>
<line x1="175.3" y1="172.5" x2="160" y2="176.3"/>
<line x1="175.3" y1="172.5" x2="156.6" y2="182.3"/>
<line x1="175.3" y1="172.5" x2="160.6" y2="186.3"/>
<line x1="175.3" y1="172.5" x2="166.3" y2="187.5"/>
<line x1="175.3" y1="172.5" x2="167.9" y2="192.3"/>
<line x1="169.8" y1="166.3" x2="175.3" y2="172.5"/>
<line x1="169.8" y1="166.3" x2="170.4" y2="177.2"/>
<line x1="175.3" y1="172.5" x2="170.4" y2="177.2"/>
<line x1="205.6" y1="178.1" x2="223.1" y2="161.9"/>
<line x1="205.6" y1="178.1" x2="228.5" y2="167.5"/>
<line x1="205.6" y1="178.1" x2="236.5" y2="172.5"/>
<line x1="205.6" y1="178.1" x2="225.6" y2="176"/>
<line x1="205.6" y1="178.1" x2="228.1" y2="183.1"/>
<line x1="205.6" y1="178.1" x2="228.8" y2="189.8"/>
<line x1="205.6" y1="178.1" x2="221.3" y2="192.3"/>
<line x1="205.6" y1="178.1" x2="216.3" y2="198.1"/>
<line x1="205.6" y1="178.1" x2="169.8" y2="166.3"/>
<line x1="205.6" y1="178.1" x2="170.4" y2="177.2"/>
<line x1="205.6" y1="178.1" x2="196.3" y2="171.9"/>
<line x1="205.6" y1="178.1" x2="193.8" y2="166.9"/>
<line x1="205.6" y1="178.1" x2="197.5" y2="163.1"/>
<line x1="252.5" y1="165.6" x2="236.5" y2="172.5"/>
<line x1="252.5" y1="165.6" x2="228.5" y2="167.5"/>
<line x1="214.4" y1="142.3" x2="226" y2="130"/>
<line x1="214.4" y1="142.3" x2="232.5" y2="139.4"/>
<line x1="214.4" y1="142.3" x2="169.8" y2="166.3"/>
<line x1="168.8" y1="128.1" x2="167.5" y2="141.9"/>
<line x1="184.8" y1="201.3" x2="181.9" y2="184.4"/>
<line x1="184.8" y1="201.3" x2="185" y2="186.9"/>
<line x1="184.8" y1="201.3" x2="187.5" y2="184.4"/>
<line x1="191.9" y1="199" x2="181.9" y2="184.4"/>
<line x1="191.9" y1="199" x2="185" y2="186.9"/>
<line x1="191.9" y1="199" x2="187.5" y2="184.4"/>
<line x1="191.9" y1="199" x2="186.9" y2="178.8"/>
<line x1="57.8" y1="217.3" x2="49.4" y2="211.5"/>
<line x1="57.8" y1="217.3" x2="67.3" y2="216.5"/>
<line x1="95.2" y1="219.9" x2="98.5" y2="208.3"/>
<line x1="95.2" y1="219.9" x2="86" y2="212"/>
<line x1="95.2" y1="219.9" x2="83.5" y2="223.8"/>
<line x1="95.2" y1="219.9" x2="107.3" y2="230"/>
<line x1="107.3" y1="230" x2="95.6" y2="234.4"/>
<line x1="107.3" y1="230" x2="105.6" y2="241"/>
<line x1="107.3" y1="230" x2="124.4" y2="233.5"/>
<line x1="124.4" y1="233.5" x2="118.1" y2="222.9"/>
<line x1="124.4" y1="233.5" x2="130.6" y2="224.8"/>
<line x1="124.4" y1="233.5" x2="139.4" y2="235.4"/>
<line x1="124.4" y1="233.5" x2="132.8" y2="242.9"/>
<line x1="145.4" y1="243.8" x2="132.8" y2="242.9"/>
<line x1="145.4" y1="243.8" x2="139.4" y2="235.4"/>
<line x1="191.9" y1="235.4" x2="180.3" y2="238.1"/>
<line x1="191.9" y1="235.4" x2="202.8" y2="231.9"/>
</g>
<g stroke="#3a3a3a" stroke-width="0.6" fill="none">
<line x1="200" y1="167.5" x2="228.5" y2="167.5"/>
<line x1="163" y1="170" x2="178" y2="180"/>
<line x1="166" y1="180" x2="176" y2="168"/>
<line x1="141.5" y1="170.8" x2="170.4" y2="177.2"/>
<line x1="143.8" y1="180.2" x2="170.4" y2="177.2"/>
<line x1="158.8" y1="197" x2="166.3" y2="187.5"/>
<line x1="141.2" y1="150.8" x2="145" y2="151"/>
<line x1="21.9" y1="152.9" x2="16" y2="159.5"/>
<line x1="40" y1="158" x2="42.1" y2="137.5"/>
<line x1="47" y1="158" x2="52.8" y2="153.4"/>
<line x1="183.1" y1="169.8" x2="197" y2="167.5"/>
<line x1="197.5" y1="163.1" x2="205" y2="167"/>
<line x1="186.9" y1="173.8" x2="195" y2="176"/>
</g>
<g fill="#444" stroke="#444" stroke-width="0.12" font-size="4.9">
<text x="61" y="26.55" text-anchor="middle" textLength="13.17" lengthAdjust="spacingAndGlyphs">WNK1</text>
<text x="68" y="33.25" text-anchor="middle" textLength="11.65" lengthAdjust="spacingAndGlyphs">CUL3</text>
<text x="56.1" y="39.25" text-anchor="middle" textLength="15.45" lengthAdjust="spacingAndGlyphs">CAND1</text>
<text x="85.3" y="35.75" text-anchor="middle" textLength="15.7" lengthAdjust="spacingAndGlyphs">UBE2M</text>
<text x="80.6" y="29.35" text-anchor="middle" textLength="12.16" lengthAdjust="spacingAndGlyphs">UBR1</text>
<text x="96.7" y="22.75" text-anchor="middle" textLength="15.45" lengthAdjust="spacingAndGlyphs">UBE2O</text>
<text x="105.3" y="28.15" text-anchor="middle" textLength="18.23" lengthAdjust="spacingAndGlyphs">HECTD3</text>
<text x="113.4" y="39.85" text-anchor="middle" textLength="16.97" lengthAdjust="spacingAndGlyphs">RNF213</text>
<text x="101" y="46.25" text-anchor="middle" textLength="13.93" lengthAdjust="spacingAndGlyphs">BCL10</text>
<text x="85" y="51.25" text-anchor="middle" textLength="8.86" lengthAdjust="spacingAndGlyphs">JUN</text>
<text x="91.5" y="58.15" text-anchor="middle" textLength="14.68" lengthAdjust="spacingAndGlyphs">ZNRF2</text>
<text x="71.8" y="42.15" text-anchor="middle" textLength="11.9" lengthAdjust="spacingAndGlyphs">UBA7</text>
<text x="121.2" y="9.85" text-anchor="middle" textLength="12.16" lengthAdjust="spacingAndGlyphs">LDHB</text>
<text x="113.1" y="17.75" text-anchor="middle" textLength="12.16" lengthAdjust="spacingAndGlyphs">LDHA</text>
<text x="137.5" y="13.65" text-anchor="middle" textLength="14.69" lengthAdjust="spacingAndGlyphs">ABCF2</text>
<text x="147.5" y="21.75" text-anchor="middle" textLength="14.69" lengthAdjust="spacingAndGlyphs">DDX23</text>
<text x="166.5" y="9.25" text-anchor="middle" textLength="14.69" lengthAdjust="spacingAndGlyphs">SRSF9</text>
<text x="163" y="24.25" text-anchor="middle" textLength="20.26" lengthAdjust="spacingAndGlyphs">PRPF40A</text>
<text x="166.9" y="30.55" text-anchor="middle" textLength="14.94" lengthAdjust="spacingAndGlyphs">PCBP2</text>
<text x="182.5" y="23.95" text-anchor="middle" textLength="16.2" lengthAdjust="spacingAndGlyphs">TRIM25</text>
<text x="201.3" y="21.75" text-anchor="middle" textLength="16.63" lengthAdjust="spacingAndGlyphs">ATP2A2</text>
<text x="191.1" y="30.85" text-anchor="middle" textLength="14.94" lengthAdjust="spacingAndGlyphs">KPNA1</text>
<text x="198.5" y="36.55" text-anchor="middle" textLength="17.98" lengthAdjust="spacingAndGlyphs">PPP1CB</text>
<text x="221.3" y="41.55" text-anchor="middle" textLength="23.05" lengthAdjust="spacingAndGlyphs">PPP1R12A</text>
<text x="128.1" y="34.55" text-anchor="middle" textLength="11.9" lengthAdjust="spacingAndGlyphs">EML4</text>
<text x="125.6" y="53.35" text-anchor="middle" textLength="12.66" lengthAdjust="spacingAndGlyphs">KIF2A</text>
<text x="141.9" y="43.05" text-anchor="middle" textLength="12.66" lengthAdjust="spacingAndGlyphs">CLIP1</text>
<text x="157.8" y="35.55" text-anchor="middle" textLength="21.78" lengthAdjust="spacingAndGlyphs">RANGAP1</text>
<text x="147.8" y="57.35" text-anchor="middle" textLength="16.97" lengthAdjust="spacingAndGlyphs">IQGAP1</text>
<text x="152.5" y="64.55" text-anchor="middle" textLength="15.19" lengthAdjust="spacingAndGlyphs">LEMD3</text>
<text x="181" y="45.95" text-anchor="middle" textLength="19.51" lengthAdjust="spacingAndGlyphs">SLC25A3</text>
<text x="168.4" y="59.75" text-anchor="middle" textLength="15.45" lengthAdjust="spacingAndGlyphs">C1QBP</text>
<text x="148.1" y="74.05" text-anchor="middle" textLength="14.69" lengthAdjust="spacingAndGlyphs">NUP93</text>
<text x="131" y="71.75" text-anchor="middle" textLength="22.03" lengthAdjust="spacingAndGlyphs">SMARCA4</text>
<text x="132.8" y="79.05" text-anchor="middle" textLength="22.28" lengthAdjust="spacingAndGlyphs">SMARCC1</text>
<text x="142.5" y="84.85" text-anchor="middle" textLength="15.7" lengthAdjust="spacingAndGlyphs">PBRM1</text>
<text x="176.9" y="75.25" text-anchor="middle" textLength="14.44" lengthAdjust="spacingAndGlyphs">USP15</text>
<text x="166.9" y="87.75" text-anchor="middle" textLength="15.7" lengthAdjust="spacingAndGlyphs">SMAD2</text>
<text x="179" y="97.35" text-anchor="middle" textLength="12.16" lengthAdjust="spacingAndGlyphs">CDK9</text>
<text x="193.8" y="99.55" text-anchor="middle" textLength="12.91" lengthAdjust="spacingAndGlyphs">INTS3</text>
<text x="170.3" y="106.75" text-anchor="middle" textLength="8.61" lengthAdjust="spacingAndGlyphs">SP1</text>
<text x="149.7" y="103.65" text-anchor="middle" textLength="14.94" lengthAdjust="spacingAndGlyphs">PPP5C</text>
<text x="155" y="117.75" text-anchor="middle" textLength="17.98" lengthAdjust="spacingAndGlyphs">PTGES3</text>
<text x="170.6" y="127.35" text-anchor="middle" textLength="23.05" lengthAdjust="spacingAndGlyphs">HSP90AA1</text>
<text x="205.5" y="64.95" text-anchor="middle" textLength="11.9" lengthAdjust="spacingAndGlyphs">CCT2</text>
<text x="206.5" y="53.05" text-anchor="middle" textLength="12.41" lengthAdjust="spacingAndGlyphs">GNB2</text>
<text x="196.3" y="58.65" text-anchor="middle" textLength="11.9" lengthAdjust="spacingAndGlyphs">CCT5</text>
<text x="224" y="62.35" text-anchor="middle" textLength="11.65" lengthAdjust="spacingAndGlyphs">TCP1</text>
<text x="226" y="75.55" text-anchor="middle" textLength="11.9" lengthAdjust="spacingAndGlyphs">CCT8</text>
<text x="216.5" y="83.65" text-anchor="middle" textLength="11.9" lengthAdjust="spacingAndGlyphs">CCT3</text>
<text x="199.4" y="78.05" text-anchor="middle" textLength="14.94" lengthAdjust="spacingAndGlyphs">CCT6A</text>
<text x="241.3" y="53.25" text-anchor="middle" textLength="18.49" lengthAdjust="spacingAndGlyphs">PRKAG1</text>
<text x="241.1" y="67.35" text-anchor="middle" textLength="17.98" lengthAdjust="spacingAndGlyphs">PRKAA1</text>
<text x="251.5" y="104.85" text-anchor="middle" textLength="15.7" lengthAdjust="spacingAndGlyphs">PSMD6</text>
<text x="240.3" y="86.15" text-anchor="middle" textLength="18.23" lengthAdjust="spacingAndGlyphs">PSMD12</text>
<text x="258.8" y="86.15" text-anchor="middle" textLength="15.7" lengthAdjust="spacingAndGlyphs">PSMC3</text>
<text x="262.5" y="94.85" text-anchor="middle" textLength="17.9" lengthAdjust="spacingAndGlyphs">PSMD11</text>
<text x="232.8" y="97.05" text-anchor="middle" textLength="15.7" lengthAdjust="spacingAndGlyphs">PSMC5</text>
<text x="223.1" y="103.05" text-anchor="middle" textLength="15.7" lengthAdjust="spacingAndGlyphs">PSMC2</text>
<text x="232.2" y="108.65" text-anchor="middle" textLength="18.23" lengthAdjust="spacingAndGlyphs">PSMD13</text>
<text x="244.1" y="118.65" text-anchor="middle" textLength="15.7" lengthAdjust="spacingAndGlyphs">PSMC4</text>
<text x="261.9" y="119.25" text-anchor="middle" textLength="15.7" lengthAdjust="spacingAndGlyphs">PSMD1</text>
<text x="262.5" y="110.75" text-anchor="middle" textLength="15.7" lengthAdjust="spacingAndGlyphs">PSMD2</text>
<text x="96.3" y="68.65" text-anchor="middle" textLength="14.44" lengthAdjust="spacingAndGlyphs">ESYT1</text>
<text x="110.5" y="76.35" text-anchor="middle" textLength="14.44" lengthAdjust="spacingAndGlyphs">ESYT2</text>
<text x="51.1" y="62.05" text-anchor="middle" textLength="19.33" lengthAdjust="spacingAndGlyphs">WASHC3</text>
<text x="34.5" y="68.25" text-anchor="middle" textLength="17.73" lengthAdjust="spacingAndGlyphs">CAPZA1</text>
<text x="53" y="71.15" text-anchor="middle" textLength="15.19" lengthAdjust="spacingAndGlyphs">CAPZB</text>
<text x="57" y="79.55" text-anchor="middle" textLength="19.33" lengthAdjust="spacingAndGlyphs">WASHC5</text>
<text x="33.4" y="74.85" text-anchor="middle" textLength="16.97" lengthAdjust="spacingAndGlyphs">FKBP15</text>
<text x="24.3" y="83.65" text-anchor="middle" textLength="21.52" lengthAdjust="spacingAndGlyphs">ARHGEF7</text>
<text x="45.1" y="91.75" text-anchor="middle" textLength="19.33" lengthAdjust="spacingAndGlyphs">WASHC4</text>
<text x="65.5" y="153.35" text-anchor="middle" textLength="18.24" lengthAdjust="spacingAndGlyphs">NECAP2</text>
<text x="13" y="152.35" text-anchor="middle" textLength="15.2" lengthAdjust="spacingAndGlyphs">ARPC4</text>
<text x="46.1" y="105.75" text-anchor="middle" textLength="9.88" lengthAdjust="spacingAndGlyphs">GNS</text>
<text x="66.6" y="104.25" text-anchor="middle" textLength="20.01" lengthAdjust="spacingAndGlyphs">HSP90B1</text>
<text x="74.7" y="89.85" text-anchor="middle" textLength="9.62" lengthAdjust="spacingAndGlyphs">BSG</text>
<text x="86.9" y="110.75" text-anchor="middle" textLength="11.9" lengthAdjust="spacingAndGlyphs">MYL6</text>
<text x="89.1" y="96.85" text-anchor="middle" textLength="11.14" lengthAdjust="spacingAndGlyphs">TLN1</text>
<text x="105" y="97.35" text-anchor="middle" textLength="12.15" lengthAdjust="spacingAndGlyphs">TPM4</text>
<text x="99.7" y="115.25" text-anchor="middle" textLength="8.86" lengthAdjust="spacingAndGlyphs">VCL</text>
<text x="71.2" y="117.75" text-anchor="middle" textLength="12.66" lengthAdjust="spacingAndGlyphs">MYH9</text>
<text x="69.7" y="125.55" text-anchor="middle" textLength="18.15" lengthAdjust="spacingAndGlyphs">TOLLIP2</text>
<text x="84.7" y="131.75" text-anchor="middle" textLength="14.94" lengthAdjust="spacingAndGlyphs">CKAP4</text>
<text x="29.4" y="111.55" text-anchor="middle" textLength="11.9" lengthAdjust="spacingAndGlyphs">SNX5</text>
<text x="44" y="111.15" text-anchor="middle" textLength="14.18" lengthAdjust="spacingAndGlyphs">TPD52</text>
<text x="20.6" y="121.15" text-anchor="middle" textLength="14.69" lengthAdjust="spacingAndGlyphs">AP1G1</text>
<text x="49.7" y="118.25" text-anchor="middle" textLength="12.91" lengthAdjust="spacingAndGlyphs">DNM2</text>
<text x="17.8" y="126.15" text-anchor="middle" textLength="11.9" lengthAdjust="spacingAndGlyphs">SNX2</text>
<text x="32" y="132.35" text-anchor="middle" textLength="16.46" lengthAdjust="spacingAndGlyphs">MYO1G</text>
<text x="13.9" y="137.75" text-anchor="middle" textLength="15.95" lengthAdjust="spacingAndGlyphs">CYFIP2</text>
<text x="22" y="144.05" text-anchor="middle" textLength="18.24" lengthAdjust="spacingAndGlyphs">ARPC1B</text>
<text x="66.3" y="136.75" text-anchor="middle" textLength="13.42" lengthAdjust="spacingAndGlyphs">IGF2R</text>
<text x="67.2" y="147.75" text-anchor="middle" textLength="11.9" lengthAdjust="spacingAndGlyphs">EPN1</text>
<text x="61.7" y="142.55" text-anchor="middle" textLength="12.91" lengthAdjust="spacingAndGlyphs">ITSN1</text>
<text x="27.7" y="158.45" text-anchor="middle" textLength="14.94" lengthAdjust="spacingAndGlyphs">ACTR2</text>
<text x="43.2" y="158.45" text-anchor="middle" textLength="20.52" lengthAdjust="spacingAndGlyphs">SH3KBP1</text>
<text x="36.9" y="162.95" text-anchor="middle" textLength="14.94" lengthAdjust="spacingAndGlyphs">ACTR3</text>
<text x="15" y="162.95" text-anchor="middle" textLength="20.77" lengthAdjust="spacingAndGlyphs">NCKAP1L</text>
<text x="21" y="148.25" text-anchor="middle" textLength="15.2" lengthAdjust="spacingAndGlyphs">ARPC2</text>
<text x="67.3" y="159.35" text-anchor="middle" textLength="14.94" lengthAdjust="spacingAndGlyphs">RAB5B</text>
<text x="78.1" y="165.55" text-anchor="middle" textLength="14.44" lengthAdjust="spacingAndGlyphs">RAB14</text>
<text x="76" y="172.15" text-anchor="middle" textLength="14.94" lengthAdjust="spacingAndGlyphs">RAB4B</text>
<text x="57.8" y="169.85" text-anchor="middle" textLength="14.94" lengthAdjust="spacingAndGlyphs">RAB5A</text>
<text x="82.5" y="179.25" text-anchor="middle" textLength="14.44" lengthAdjust="spacingAndGlyphs">RAB35</text>
<text x="72.5" y="185.75" text-anchor="middle" textLength="14.44" lengthAdjust="spacingAndGlyphs">RAB21</text>
<text x="56.6" y="184.05" text-anchor="middle" textLength="14.94" lengthAdjust="spacingAndGlyphs">RAB2A</text>
<text x="37.8" y="179.75" text-anchor="middle" textLength="17.98" lengthAdjust="spacingAndGlyphs">RABEP1</text>
<text x="36" y="170.65" text-anchor="middle" textLength="21.27" lengthAdjust="spacingAndGlyphs">RABGEF1</text>
<text x="70.6" y="178.75" text-anchor="middle" textLength="14.1" lengthAdjust="spacingAndGlyphs">RAB11</text>
<text x="164.8" y="141.15" text-anchor="middle" textLength="16.46" lengthAdjust="spacingAndGlyphs">NFKBIB</text>
<text x="183.5" y="146.35" text-anchor="middle" textLength="14.44" lengthAdjust="spacingAndGlyphs">SRP68</text>
<text x="161.5" y="148.65" text-anchor="middle" textLength="18.23" lengthAdjust="spacingAndGlyphs">COLGT1</text>
<text x="146.5" y="149.65" text-anchor="middle" textLength="13.42" lengthAdjust="spacingAndGlyphs">IKBKB</text>
<text x="134.5" y="152.35" text-anchor="middle" textLength="11.14" lengthAdjust="spacingAndGlyphs">ETF1</text>
<text x="139" y="157.35" text-anchor="middle" textLength="14.44" lengthAdjust="spacingAndGlyphs">SRP54</text>
<text x="192.8" y="152.35" text-anchor="middle" textLength="15.2" lengthAdjust="spacingAndGlyphs">RRBP1</text>
<text x="198" y="158.05" text-anchor="middle" textLength="11.9" lengthAdjust="spacingAndGlyphs">RPS3</text>
<text x="206.5" y="163.65" text-anchor="middle" textLength="14.44" lengthAdjust="spacingAndGlyphs">RPS28</text>
<text x="175" y="153.05" text-anchor="middle" textLength="14.44" lengthAdjust="spacingAndGlyphs">RPLP1</text>
<text x="179.5" y="159.05" text-anchor="middle" textLength="19.51" lengthAdjust="spacingAndGlyphs">SLC25A5</text>
<text x="156" y="156.75" text-anchor="middle" textLength="11.4" lengthAdjust="spacingAndGlyphs">RPL5</text>
<text x="151.6" y="164.85" text-anchor="middle" textLength="11.4" lengthAdjust="spacingAndGlyphs">RPL7</text>
<text x="133" y="166.15" text-anchor="middle" textLength="12.66" lengthAdjust="spacingAndGlyphs">EIF5B</text>
<text x="149" y="170.55" text-anchor="middle" textLength="13.93" lengthAdjust="spacingAndGlyphs">RPL14</text>
<text x="131" y="172.35" text-anchor="middle" textLength="14.44" lengthAdjust="spacingAndGlyphs">RPLP2</text>
<text x="147.2" y="176.75" text-anchor="middle" textLength="13.93" lengthAdjust="spacingAndGlyphs">RPL21</text>
<text x="136.5" y="181.75" text-anchor="middle" textLength="13.93" lengthAdjust="spacingAndGlyphs">RPL12</text>
<text x="151.3" y="187.35" text-anchor="middle" textLength="13.93" lengthAdjust="spacingAndGlyphs">RPL15</text>
<text x="156.9" y="192.35" text-anchor="middle" textLength="13.93" lengthAdjust="spacingAndGlyphs">RPL17</text>
<text x="166.6" y="200.25" text-anchor="middle" textLength="11.4" lengthAdjust="spacingAndGlyphs">EEF2</text>
<text x="151.5" y="199.25" text-anchor="middle" textLength="16.97" lengthAdjust="spacingAndGlyphs">RPL23A</text>
<text x="175.6" y="188.65" text-anchor="middle" textLength="12.66" lengthAdjust="spacingAndGlyphs">CYCS</text>
<text x="178.5" y="194.85" text-anchor="middle" textLength="11.9" lengthAdjust="spacingAndGlyphs">RPS5</text>
<text x="193" y="189.85" text-anchor="middle" textLength="11.9" lengthAdjust="spacingAndGlyphs">RPS7</text>
<text x="184" y="199.85" text-anchor="middle" textLength="14.44" lengthAdjust="spacingAndGlyphs">RPS24</text>
<text x="182.2" y="206.75" text-anchor="middle" textLength="14.69" lengthAdjust="spacingAndGlyphs">DDX47</text>
<text x="199" y="203.65" text-anchor="middle" textLength="12.91" lengthAdjust="spacingAndGlyphs">EMG1</text>
<text x="209" y="169.25" text-anchor="middle" textLength="14.44" lengthAdjust="spacingAndGlyphs">RPS27</text>
<text x="172.5" y="174.25" text-anchor="middle" textLength="12.91" lengthAdjust="spacingAndGlyphs">PWP1</text>
<text x="176" y="182.75" text-anchor="middle" textLength="11.9" lengthAdjust="spacingAndGlyphs">RPS2</text>
<text x="211.5" y="174.85" text-anchor="middle" textLength="17.48" lengthAdjust="spacingAndGlyphs">RPS15A</text>
<text x="196" y="177.75" text-anchor="middle" textLength="14.44" lengthAdjust="spacingAndGlyphs">RPS13</text>
<text x="195" y="185.25" text-anchor="middle" textLength="11.9" lengthAdjust="spacingAndGlyphs">RPS6</text>
<text x="210.3" y="183.05" text-anchor="middle" textLength="12.66" lengthAdjust="spacingAndGlyphs">EIF4B</text>
<text x="223.1" y="160.75" text-anchor="middle" textLength="13.42" lengthAdjust="spacingAndGlyphs">EIF3M</text>
<text x="226" y="167.05" text-anchor="middle" textLength="12.66" lengthAdjust="spacingAndGlyphs">EIF3K</text>
<text x="254.7" y="164.55" text-anchor="middle" textLength="15.2" lengthAdjust="spacingAndGlyphs">EIF2B1</text>
<text x="242" y="171.55" text-anchor="middle" textLength="12.16" lengthAdjust="spacingAndGlyphs">EIF3L</text>
<text x="244" y="177.35" text-anchor="middle" textLength="15.2" lengthAdjust="spacingAndGlyphs">EIF2S2</text>
<text x="226.3" y="180.25" text-anchor="middle" textLength="12.41" lengthAdjust="spacingAndGlyphs">EIF3F</text>
<text x="239.4" y="184.05" text-anchor="middle" textLength="12.66" lengthAdjust="spacingAndGlyphs">EIF3E</text>
<text x="232.2" y="189.05" text-anchor="middle" textLength="12.66" lengthAdjust="spacingAndGlyphs">EIF3A</text>
<text x="218.8" y="197.75" text-anchor="middle" textLength="12.66" lengthAdjust="spacingAndGlyphs">EIF3B</text>
<text x="214" y="203.05" text-anchor="middle" textLength="15.2" lengthAdjust="spacingAndGlyphs">EIF4A1</text>
<text x="212" y="146.75" text-anchor="middle" textLength="11.9" lengthAdjust="spacingAndGlyphs">PHB2</text>
<text x="229.4" y="129.75" text-anchor="middle" textLength="9.37" lengthAdjust="spacingAndGlyphs">PHB</text>
<text x="229" y="144.05" text-anchor="middle" textLength="16.97" lengthAdjust="spacingAndGlyphs">AFG3L2</text>
<text x="47" y="210.25" text-anchor="middle" textLength="18.24" lengthAdjust="spacingAndGlyphs">RANBP1</text>
<text x="55.9" y="221.55" text-anchor="middle" textLength="9.62" lengthAdjust="spacingAndGlyphs">RAN</text>
<text x="70.4" y="215.55" text-anchor="middle" textLength="15.7" lengthAdjust="spacingAndGlyphs">TMPO2</text>
<text x="101.6" y="207.75" text-anchor="middle" textLength="14.69" lengthAdjust="spacingAndGlyphs">CD79B</text>
<text x="90" y="217.75" text-anchor="middle" textLength="14.69" lengthAdjust="spacingAndGlyphs">CD79A</text>
<text x="87.5" y="224.05" text-anchor="middle" textLength="14.69" lengthAdjust="spacingAndGlyphs">PTPN6</text>
<text x="80" y="229.85" text-anchor="middle" textLength="11.65" lengthAdjust="spacingAndGlyphs">CD22</text>
<text x="103.4" y="229.25" text-anchor="middle" textLength="10.89" lengthAdjust="spacingAndGlyphs">JAK1</text>
<text x="93.4" y="239.05" text-anchor="middle" textLength="13.5" lengthAdjust="spacingAndGlyphs">STAT2</text>
<text x="109" y="246.15" text-anchor="middle" textLength="13.5" lengthAdjust="spacingAndGlyphs">STAT6</text>
<text x="119.4" y="232.05" text-anchor="middle" textLength="16.88" lengthAdjust="spacingAndGlyphs">PTPN11</text>
<text x="115.9" y="222.35" text-anchor="middle" textLength="10.98" lengthAdjust="spacingAndGlyphs">VAV1</text>
<text x="137.8" y="229.85" text-anchor="middle" textLength="16.46" lengthAdjust="spacingAndGlyphs">PIK3CD</text>
<text x="144.4" y="240.75" text-anchor="middle" textLength="13.67" lengthAdjust="spacingAndGlyphs">RHOG</text>
<text x="129.3" y="241.75" text-anchor="middle" textLength="12.16" lengthAdjust="spacingAndGlyphs">RAC2</text>
<text x="148.4" y="248.65" text-anchor="middle" textLength="20.76" lengthAdjust="spacingAndGlyphs">ARHGDIB</text>
<text x="208.6" y="229.55" text-anchor="middle" textLength="17.23" lengthAdjust="spacingAndGlyphs">VPS33A</text>
<text x="194.4" y="234.55" text-anchor="middle" textLength="14.19" lengthAdjust="spacingAndGlyphs">VPS16</text>
<text x="177.5" y="243.05" text-anchor="middle" textLength="11.65" lengthAdjust="spacingAndGlyphs">EEA1</text>
</g>
<circle cx="63.3" cy="27.5" r="1.9" fill="#D0152F"/>
<path d="M71.2,31.3L73.7,35.4L68.7,35.4Z" fill="#0C4D89"/>
<circle cx="58.5" cy="40.3" r="1.9" fill="#D0152F"/>
<circle cx="88.9" cy="37.2" r="1.9" fill="#D0152F"/>
<path d="M84.3,21.9L86.8,26L81.8,26Z" fill="#0C4D89"/>
<path d="M93.6,20.7L96.1,24.8L91.1,24.8Z" fill="#0C4D89"/>
<path d="M101.9,27L104.4,31.1L99.4,31.1Z" fill="#0C4D89"/>
<path d="M103.1,35.6L105.6,39.7L100.6,39.7Z" fill="#0C4D89"/>
<path d="M98.4,44.5L100.9,48.6L95.9,48.6Z" fill="#0C4D89"/>
<path d="M82.2,43.7L84.7,47.8L79.7,47.8Z" fill="#0C4D89"/>
<path d="M88.7,49.2L91.2,53.3L86.2,53.3Z" fill="#0C4D89"/>
<path d="M74.4,40.6L76.9,44.7L71.9,44.7Z" fill="#0C4D89"/>
<circle cx="124.4" cy="11" r="1.9" fill="#D0152F"/>
<path d="M115.6,10L118.1,14.1L113.1,14.1Z" fill="#0C4D89"/>
<path d="M139.4,11.7L141.9,15.8L136.9,15.8Z" fill="#0C4D89"/>
<circle cx="149.4" cy="17.3" r="1.9" fill="#D0152F"/>
<circle cx="164" cy="10.6" r="1.9" fill="#D0152F"/>
<path d="M160.6,16.9L163.1,21L158.1,21Z" fill="#0C4D89"/>
<circle cx="169.4" cy="26" r="1.9" fill="#D0152F"/>
<path d="M178.8,22.1L181.3,26.2L176.3,26.2Z" fill="#0C4D89"/>
<circle cx="195.6" cy="23.1" r="1.9" fill="#D0152F"/>
<path d="M193.5,29L196,33.1L191,33.1Z" fill="#0C4D89"/>
<path d="M208.8,32.9L211.3,37L206.3,37Z" fill="#0C4D89"/>
<circle cx="218.1" cy="36.5" r="1.9" fill="#D0152F"/>
<path d="M130.3,32.9L132.8,37L127.8,37Z" fill="#0C4D89"/>
<path d="M128,46.1L130.5,50.2L125.5,50.2Z" fill="#0C4D89"/>
<circle cx="138.6" cy="44.4" r="1.9" fill="#D0152F"/>
<path d="M145.6,33.8L148.1,37.9L143.1,37.9Z" fill="#0C4D89"/>
<path d="M150.6,50.3L153.1,54.4L148.1,54.4Z" fill="#0C4D89"/>
<circle cx="160.9" cy="64.9" r="1.9" fill="#D0152F"/>
<circle cx="177.9" cy="47" r="1.9" fill="#D0152F"/>
<path d="M170.3,52.3L172.8,56.4L167.8,56.4Z" fill="#0C4D89"/>
<path d="M150.6,66.9L153.1,71L148.1,71Z" fill="#0C4D89"/>
<path d="M133.5,70.6L136,74.7L131,74.7Z" fill="#0C4D89"/>
<circle cx="145.3" cy="79.4" r="1.9" fill="#D0152F"/>
<path d="M133.5,82.5L136,86.6L131,86.6Z" fill="#0C4D89"/>
<circle cx="174.4" cy="76.5" r="1.9" fill="#D0152F"/>
<path d="M163.5,79.4L166,83.5L161,83.5Z" fill="#0C4D89"/>
<path d="M182.8,89.4L185.3,93.5L180.3,93.5Z" fill="#0C4D89"/>
<path d="M189.4,97.7L191.9,101.8L186.9,101.8Z" fill="#0C4D89"/>
<circle cx="174" cy="102.5" r="1.9" fill="#D0152F"/>
<path d="M146.6,102.2L149.1,106.3L144.1,106.3Z" fill="#0C4D89"/>
<circle cx="157.8" cy="113.1" r="1.9" fill="#D0152F"/>
<path d="M168.8,125.6L171.3,129.7L166.3,129.7Z" fill="#0C4D89"/>
<circle cx="211.2" cy="66.2" r="1.9" fill="#D0152F"/>
<path d="M209,51.5L211.5,55.6L206.5,55.6Z" fill="#0C4D89"/>
<path d="M198.8,56.9L201.3,61L196.3,61Z" fill="#0C4D89"/>
<path d="M221,55L223.5,59.1L218.5,59.1Z" fill="#0C4D89"/>
<path d="M223.1,67.5L225.6,71.6L220.6,71.6Z" fill="#0C4D89"/>
<path d="M213.1,75.6L215.6,79.7L210.6,79.7Z" fill="#0C4D89"/>
<path d="M201.5,70L204,74.1L199,74.1Z" fill="#0C4D89"/>
<circle cx="238.1" cy="54.4" r="1.9" fill="#D0152F"/>
<path d="M242.5,60L245,64.1L240,64.1Z" fill="#0C4D89"/>
<circle cx="247.5" cy="100.9" r="1.9" fill="#D0152F"/>
<path d="M243.5,84.6L246,88.7L241,88.7Z" fill="#0C4D89"/>
<path d="M252.8,84.6L255.3,88.7L250.3,88.7Z" fill="#0C4D89"/>
<path d="M259.4,93.5L261.9,97.6L256.9,97.6Z" fill="#0C4D89"/>
<path d="M235,90.3L237.5,94.4L232.5,94.4Z" fill="#0C4D89"/>
<path d="M232.3,99L234.8,103.1L229.8,103.1Z" fill="#0C4D89"/>
<path d="M238.1,107.5L240.6,111.6L235.6,111.6Z" fill="#0C4D89"/>
<path d="M247.8,111.3L250.3,115.4L245.3,115.4Z" fill="#0C4D89"/>
<path d="M257.3,112.3L259.8,116.4L254.8,116.4Z" fill="#0C4D89"/>
<path d="M260.3,103.1L262.8,107.2L257.8,107.2Z" fill="#0C4D89"/>
<circle cx="99" cy="70" r="1.9" fill="#D0152F"/>
<path d="M108.9,68.8L111.4,72.9L106.4,72.9Z" fill="#0C4D89"/>
<circle cx="48" cy="62.8" r="1.9" fill="#D0152F"/>
<path d="M38.4,66.9L40.9,71L35.9,71Z" fill="#0C4D89"/>
<path d="M45.8,69.8L48.3,73.9L43.3,73.9Z" fill="#0C4D89"/>
<path d="M53.3,71.6L55.8,75.7L50.8,75.7Z" fill="#0C4D89"/>
<path d="M30.3,73.5L32.8,77.6L27.8,77.6Z" fill="#0C4D89"/>
<path d="M26.8,81.5L29.3,85.6L24.3,85.6Z" fill="#0C4D89"/>
<circle cx="41.5" cy="86.6" r="1.9" fill="#D0152F"/>
<circle cx="41.3" cy="132.9" r="1.9" fill="#D0152F"/>
<circle cx="42.1" cy="137.5" r="1.9" fill="#D0152F"/>
<circle cx="52.8" cy="153.4" r="1.9" fill="#D0152F"/>
<circle cx="21.9" cy="152.9" r="1.9" fill="#D0152F"/>
<circle cx="49.1" cy="101.1" r="1.9" fill="#D0152F"/>
<circle cx="69" cy="106" r="1.9" fill="#D0152F"/>
<path d="M72.2,87.9L74.7,92L69.7,92Z" fill="#0C4D89"/>
<circle cx="88.8" cy="106.2" r="1.9" fill="#D0152F"/>
<path d="M91.3,89.6L93.8,93.7L88.8,93.7Z" fill="#0C4D89"/>
<path d="M101.3,96.2L103.8,100.3L98.8,100.3Z" fill="#0C4D89"/>
<path d="M103.1,107.5L105.6,111.6L100.6,111.6Z" fill="#0C4D89"/>
<path d="M67.9,116.3L70.4,120.4L65.4,120.4Z" fill="#0C4D89"/>
<path d="M61.7,125.3L64.2,129.4L59.2,129.4Z" fill="#0C4D89"/>
<circle cx="81.9" cy="127.3" r="1.9" fill="#D0152F"/>
<path d="M31.6,110.6L34.1,114.7L29.1,114.7Z" fill="#0C4D89"/>
<path d="M40,110L42.5,114.1L37.5,114.1Z" fill="#0C4D89"/>
<path d="M25,113.5L27.5,117.6L22.5,117.6Z" fill="#0C4D89"/>
<path d="M46.9,116.9L49.4,121L44.4,121Z" fill="#0C4D89"/>
<path d="M20.5,119.1L23,123.2L18,123.2Z" fill="#0C4D89"/>
<path d="M20.2,126.2L22.7,130.3L17.7,130.3Z" fill="#0C4D89"/>
<path d="M18.5,136.5L21,140.6L16,140.6Z" fill="#0C4D89"/>
<path d="M17.5,143.5L20,147.6L15,147.6Z" fill="#0C4D89"/>
<path d="M30.9,140.6L33.4,144.7L28.4,144.7Z" fill="#0C4D89"/>
<path d="M35.5,142.3L38,146.4L33,146.4Z" fill="#0C4D89"/>
<path d="M43.3,141.5L45.8,145.6L40.8,145.6Z" fill="#0C4D89"/>
<path d="M50.8,134.8L53.3,138.9L48.3,138.9Z" fill="#0C4D89"/>
<path d="M53.1,129L55.6,133.1L50.6,133.1Z" fill="#0C4D89"/>
<path d="M32.9,147.5L35.4,151.6L30.4,151.6Z" fill="#0C4D89"/>
<path d="M36.3,150.9L38.8,155L33.8,155Z" fill="#0C4D89"/>
<path d="M43.6,150L46.1,154.1L41.1,154.1Z" fill="#0C4D89"/>
<path d="M49.4,145L51.9,149.1L46.9,149.1Z" fill="#0C4D89"/>
<path d="M54.8,141.1L57.3,145.2L52.3,145.2Z" fill="#0C4D89"/>
<path d="M58.6,134.6L61.1,138.7L56.1,138.7Z" fill="#0C4D89"/>
<path d="M61.1,140.6L63.6,144.7L58.6,144.7Z" fill="#0C4D89"/>
<path d="M75,164L77.5,168.1L72.5,168.1Z" fill="#0C4D89"/>
<path d="M69.1,164.8L71.6,168.9L66.6,168.9Z" fill="#0C4D89"/>
<path d="M61.9,168.5L64.4,172.6L59.4,172.6Z" fill="#0C4D89"/>
<path d="M66.3,171.3L68.8,175.4L63.8,175.4Z" fill="#0C4D89"/>
<circle cx="74.8" cy="177.5" r="1.9" fill="#D0152F"/>
<circle cx="69.8" cy="181.5" r="1.9" fill="#D0152F"/>
<path d="M58.8,175L61.3,179.1L56.3,179.1Z" fill="#0C4D89"/>
<path d="M46.5,172.9L49,177L44,177Z" fill="#0C4D89"/>
<path d="M38.8,169.2L41.3,173.3L36.3,173.3Z" fill="#0C4D89"/>
<circle cx="169.8" cy="166.3" r="1.9" fill="#D0152F"/>
<circle cx="175.3" cy="172.5" r="1.9" fill="#D0152F"/>
<circle cx="170.4" cy="177.2" r="2.6" fill="#D0152F"/>
<path d="M167.5,139.4L170,143.5L165,143.5Z" fill="#0C4D89"/>
<path d="M177.5,138.9L180,143L175,143Z" fill="#0C4D89"/>
<path d="M158.8,141.3L161.3,145.4L156.3,145.4Z" fill="#0C4D89"/>
<path d="M150.6,142.5L153.1,146.6L148.1,146.6Z" fill="#0C4D89"/>
<path d="M145,148.5L147.5,152.6L142.5,152.6Z" fill="#0C4D89"/>
<path d="M141.5,155.4L144,159.5L139,159.5Z" fill="#0C4D89"/>
<path d="M189.4,144.8L191.9,148.9L186.9,148.9Z" fill="#0C4D89"/>
<path d="M192.3,157.5L194.8,161.6L189.8,161.6Z" fill="#0C4D89"/>
<path d="M184.8,157.5L187.3,161.6L182.3,161.6Z" fill="#0C4D89"/>
<path d="M197.5,160.6L200,164.7L195,164.7Z" fill="#0C4D89"/>
<path d="M171,158.8L173.5,162.9L168.5,162.9Z" fill="#0C4D89"/>
<path d="M162.5,161.5L165,165.6L160,165.6Z" fill="#0C4D89"/>
<path d="M138.5,164.8L141,168.9L136,168.9Z" fill="#0C4D89"/>
<path d="M157.8,166L160.3,170.1L155.3,170.1Z" fill="#0C4D89"/>
<path d="M163.5,166.9L166,171L161,171Z" fill="#0C4D89"/>
<path d="M155,170.6L157.5,174.7L152.5,174.7Z" fill="#0C4D89"/>
<path d="M160,173.8L162.5,177.9L157.5,177.9Z" fill="#0C4D89"/>
<path d="M154.8,176.3L157.3,180.4L152.3,180.4Z" fill="#0C4D89"/>
<path d="M156.6,179.8L159.1,183.9L154.1,183.9Z" fill="#0C4D89"/>
<path d="M160.6,183.8L163.1,187.9L158.1,187.9Z" fill="#0C4D89"/>
<path d="M162.8,180.6L165.3,184.7L160.3,184.7Z" fill="#0C4D89"/>
<path d="M166.3,185L168.8,189.1L163.8,189.1Z" fill="#0C4D89"/>
<path d="M167.9,189.8L170.4,193.9L165.4,193.9Z" fill="#0C4D89"/>
<path d="M181.3,186.3L183.8,190.4L178.8,190.4Z" fill="#0C4D89"/>
<path d="M187.5,181.9L190,186L185,186Z" fill="#0C4D89"/>
<path d="M181.9,181.9L184.4,186L179.4,186Z" fill="#0C4D89"/>
<path d="M185,184.4L187.5,188.5L182.5,188.5Z" fill="#0C4D89"/>
<path d="M183.1,174L185.6,178.1L180.6,178.1Z" fill="#0C4D89"/>
<path d="M186.9,176.3L189.4,180.4L184.4,180.4Z" fill="#0C4D89"/>
<circle cx="184.8" cy="201.3" r="1.9" fill="#D0152F"/>
<circle cx="191.9" cy="199" r="1.9" fill="#D0152F"/>
<path d="M183.1,167.3L185.6,171.4L180.6,171.4Z" fill="#0C4D89"/>
<path d="M196.3,169.4L198.8,173.5L193.8,173.5Z" fill="#0C4D89"/>
<path d="M186.9,171.3L189.4,175.4L184.4,175.4Z" fill="#0C4D89"/>
<path d="M182.5,173.8L185,177.9L180,177.9Z" fill="#0C4D89"/>
<path d="M193.8,164.4L196.3,168.5L191.3,168.5Z" fill="#0C4D89"/>
<circle cx="205.6" cy="178.1" r="1.9" fill="#D0152F"/>
<path d="M223.1,159.4L225.6,163.5L220.6,163.5Z" fill="#0C4D89"/>
<path d="M228.5,165L231,169.1L226,169.1Z" fill="#0C4D89"/>
<circle cx="252.5" cy="165.6" r="1.9" fill="#D0152F"/>
<path d="M236.5,170L239,174.1L234,174.1Z" fill="#0C4D89"/>
<path d="M225.6,173.5L228.1,177.6L223.1,177.6Z" fill="#0C4D89"/>
<path d="M228.1,180.6L230.6,184.7L225.6,184.7Z" fill="#0C4D89"/>
<path d="M228.8,187.3L231.3,191.4L226.3,191.4Z" fill="#0C4D89"/>
<path d="M221.3,189.8L223.8,193.9L218.8,193.9Z" fill="#0C4D89"/>
<path d="M216.3,195.6L218.8,199.7L213.8,199.7Z" fill="#0C4D89"/>
<circle cx="214.4" cy="142.3" r="1.9" fill="#D0152F"/>
<path d="M226,127.5L228.5,131.6L223.5,131.6Z" fill="#0C4D89"/>
<path d="M232.5,136.9L235,141L230,141Z" fill="#0C4D89"/>
<path d="M49.4,209L51.9,213.1L46.9,213.1Z" fill="#0C4D89"/>
<circle cx="57.8" cy="217.3" r="1.9" fill="#D0152F"/>
<path d="M67.3,214L69.8,218.1L64.8,218.1Z" fill="#0C4D89"/>
<path d="M98.5,205.8L101,209.9L96,209.9Z" fill="#0C4D89"/>
<path d="M86,209.5L88.5,213.6L83.5,213.6Z" fill="#0C4D89"/>
<circle cx="95.2" cy="219.9" r="1.9" fill="#D0152F"/>
<path d="M83.5,221.3L86,225.4L81,225.4Z" fill="#0C4D89"/>
<path d="M107.3,227.5L109.8,231.6L104.8,231.6Z" fill="#0C4D89"/>
<circle cx="95.6" cy="234.4" r="1.9" fill="#D0152F"/>
<circle cx="105.6" cy="241" r="1.9" fill="#D0152F"/>
<circle cx="124.4" cy="233.5" r="1.9" fill="#D0152F"/>
<path d="M118.1,220.4L120.6,224.5L115.6,224.5Z" fill="#0C4D89"/>
<path d="M130.6,222.3L133.1,226.4L128.1,226.4Z" fill="#0C4D89"/>
<path d="M139.4,232.9L141.9,237L136.9,237Z" fill="#0C4D89"/>
<path d="M132.8,240.4L135.3,244.5L130.3,244.5Z" fill="#0C4D89"/>
<circle cx="145.4" cy="243.8" r="1.9" fill="#D0152F"/>
<circle cx="202.8" cy="231.9" r="1.9" fill="#D0152F"/>
<path d="M191.9,232.9L194.4,237L189.4,237Z" fill="#0C4D89"/>
<circle cx="180.3" cy="238.1" r="1.9" fill="#D0152F"/>
<rect x="0.5" y="0.5" width="519" height="464" fill="none" stroke="#111" stroke-width="1.2"/>
</svg>
</body></html>
